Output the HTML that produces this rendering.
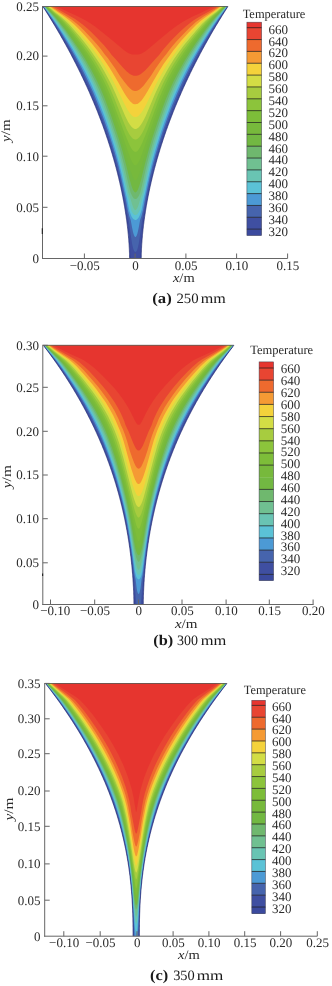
<!DOCTYPE html>
<html><head><meta charset="utf-8"><style>
html,body{margin:0;padding:0;background:#fff;width:332px;height:986px;overflow:hidden;}
svg{display:block;filter:blur(0.35px);}
.tk{font-family:"Liberation Serif",serif;fill:#2a2a2a;}
text{text-rendering:geometricPrecision;-webkit-font-smoothing:antialiased;}
.cap{font-family:"Liberation Serif",serif;fill:#1a1a1a;}
</style></head><body>
<svg width="332" height="986" viewBox="0 0 332 986">
<rect width="332" height="986" fill="#fff"/>
<path d="M42.90,6.50 L43.71,7.77 L44.52,9.03 L45.32,10.30 L46.12,11.57 L46.92,12.83 L47.71,14.10 L48.50,15.36 L49.29,16.63 L50.07,17.90 L50.85,19.16 L51.62,20.43 L52.39,21.70 L53.16,22.96 L53.92,24.23 L54.68,25.49 L55.43,26.76 L56.18,28.03 L56.93,29.29 L57.67,30.56 L58.41,31.83 L59.15,33.09 L59.88,34.36 L60.61,35.63 L61.33,36.89 L62.06,38.16 L62.77,39.42 L63.49,40.69 L64.20,41.96 L64.90,43.22 L65.60,44.49 L66.30,45.76 L67.00,47.02 L67.69,48.29 L68.37,49.56 L69.06,50.82 L69.74,52.09 L70.41,53.35 L71.09,54.62 L71.75,55.89 L72.42,57.15 L73.08,58.42 L73.74,59.69 L74.39,60.95 L75.04,62.22 L75.69,63.48 L76.33,64.75 L76.97,66.02 L77.60,67.28 L78.23,68.55 L78.86,69.82 L79.48,71.08 L80.10,72.35 L80.72,73.62 L81.33,74.88 L81.94,76.15 L82.55,77.41 L83.15,78.68 L83.74,79.95 L84.34,81.21 L84.93,82.48 L85.51,83.75 L86.10,85.01 L86.68,86.28 L87.25,87.55 L87.82,88.81 L88.39,90.08 L88.95,91.34 L89.51,92.61 L90.07,93.88 L90.62,95.14 L91.17,96.41 L91.72,97.68 L92.26,98.94 L92.80,100.21 L93.33,101.47 L93.86,102.74 L94.39,104.01 L94.91,105.27 L95.43,106.54 L95.95,107.81 L96.46,109.07 L96.97,110.34 L97.47,111.61 L97.97,112.87 L98.47,114.14 L98.96,115.40 L99.45,116.67 L99.94,117.94 L100.42,119.20 L100.90,120.47 L101.37,121.74 L101.85,123.00 L102.31,124.27 L102.78,125.54 L103.24,126.80 L103.69,128.07 L104.14,129.33 L104.59,130.60 L105.04,131.87 L105.48,133.13 L105.92,134.40 L106.35,135.67 L106.78,136.93 L107.21,138.20 L107.63,139.46 L108.05,140.73 L108.46,142.00 L108.87,143.26 L109.28,144.53 L109.68,145.80 L110.08,147.06 L110.48,148.33 L110.87,149.60 L111.26,150.86 L111.65,152.13 L112.03,153.39 L112.41,154.66 L112.78,155.93 L113.15,157.19 L113.51,158.46 L113.88,159.73 L114.24,160.99 L114.59,162.26 L114.94,163.53 L115.29,164.79 L115.63,166.06 L115.97,167.32 L116.31,168.59 L116.64,169.86 L116.97,171.12 L117.29,172.39 L117.61,173.66 L117.93,174.92 L118.24,176.19 L118.55,177.45 L118.85,178.72 L119.15,179.99 L119.45,181.25 L119.74,182.52 L120.03,183.79 L120.32,185.05 L120.60,186.32 L120.88,187.59 L121.15,188.85 L121.42,190.12 L121.69,191.38 L121.95,192.65 L122.21,193.92 L122.46,195.18 L122.71,196.45 L122.96,197.72 L123.20,198.98 L123.44,200.25 L123.67,201.52 L123.90,202.78 L124.13,204.05 L124.35,205.31 L124.56,206.58 L124.78,207.85 L124.99,209.11 L125.19,210.38 L125.39,211.65 L125.59,212.91 L125.78,214.18 L125.97,215.44 L126.16,216.71 L126.34,217.98 L126.51,219.24 L126.68,220.51 L126.85,221.78 L127.01,223.04 L127.17,224.31 L127.32,225.58 L127.47,226.84 L127.62,228.11 L127.76,229.37 L127.89,230.64 L128.03,231.91 L128.15,233.17 L128.27,234.44 L128.39,235.71 L128.50,236.97 L128.61,238.24 L128.71,239.51 L128.81,240.77 L128.90,242.04 L128.99,243.30 L129.07,244.57 L129.15,245.84 L129.22,247.10 L129.28,248.37 L129.34,249.64 L129.40,250.90 L129.45,252.17 L129.49,253.43 L129.52,254.70 L129.55,255.97 L129.56,257.23 L129.57,258.50 L141.23,258.50 L141.24,257.23 L141.25,255.97 L141.28,254.70 L141.31,253.43 L141.35,252.17 L141.40,250.90 L141.46,249.64 L141.52,248.37 L141.58,247.10 L141.65,245.84 L141.73,244.57 L141.81,243.30 L141.90,242.04 L141.99,240.77 L142.09,239.51 L142.19,238.24 L142.30,236.97 L142.41,235.71 L142.53,234.44 L142.65,233.17 L142.77,231.91 L142.91,230.64 L143.04,229.37 L143.18,228.11 L143.33,226.84 L143.48,225.58 L143.63,224.31 L143.79,223.04 L143.95,221.78 L144.12,220.51 L144.29,219.24 L144.46,217.98 L144.64,216.71 L144.83,215.44 L145.02,214.18 L145.21,212.91 L145.41,211.65 L145.61,210.38 L145.81,209.11 L146.02,207.85 L146.24,206.58 L146.45,205.31 L146.67,204.05 L146.90,202.78 L147.13,201.52 L147.36,200.25 L147.60,198.98 L147.84,197.72 L148.09,196.45 L148.34,195.18 L148.59,193.92 L148.85,192.65 L149.11,191.38 L149.38,190.12 L149.65,188.85 L149.92,187.59 L150.20,186.32 L150.48,185.05 L150.77,183.79 L151.06,182.52 L151.35,181.25 L151.65,179.99 L151.95,178.72 L152.25,177.45 L152.56,176.19 L152.87,174.92 L153.19,173.66 L153.51,172.39 L153.83,171.12 L154.16,169.86 L154.49,168.59 L154.83,167.32 L155.17,166.06 L155.51,164.79 L155.86,163.53 L156.21,162.26 L156.56,160.99 L156.92,159.73 L157.29,158.46 L157.65,157.19 L158.02,155.93 L158.39,154.66 L158.77,153.39 L159.15,152.13 L159.54,150.86 L159.93,149.60 L160.32,148.33 L160.72,147.06 L161.12,145.80 L161.52,144.53 L161.93,143.26 L162.34,142.00 L162.75,140.73 L163.17,139.46 L163.59,138.20 L164.02,136.93 L164.45,135.67 L164.88,134.40 L165.32,133.13 L165.76,131.87 L166.21,130.60 L166.66,129.33 L167.11,128.07 L167.56,126.80 L168.02,125.54 L168.49,124.27 L168.95,123.00 L169.43,121.74 L169.90,120.47 L170.38,119.20 L170.86,117.94 L171.35,116.67 L171.84,115.40 L172.33,114.14 L172.83,112.87 L173.33,111.61 L173.83,110.34 L174.34,109.07 L174.85,107.81 L175.37,106.54 L175.89,105.27 L176.41,104.01 L176.94,102.74 L177.47,101.47 L178.00,100.21 L178.54,98.94 L179.08,97.68 L179.63,96.41 L180.18,95.14 L180.73,93.88 L181.29,92.61 L181.85,91.34 L182.41,90.08 L182.98,88.81 L183.55,87.55 L184.12,86.28 L184.70,85.01 L185.29,83.75 L185.87,82.48 L186.46,81.21 L187.06,79.95 L187.65,78.68 L188.25,77.41 L188.86,76.15 L189.47,74.88 L190.08,73.62 L190.70,72.35 L191.32,71.08 L191.94,69.82 L192.57,68.55 L193.20,67.28 L193.83,66.02 L194.47,64.75 L195.11,63.48 L195.76,62.22 L196.41,60.95 L197.06,59.69 L197.72,58.42 L198.38,57.15 L199.05,55.89 L199.71,54.62 L200.39,53.35 L201.06,52.09 L201.74,50.82 L202.43,49.56 L203.11,48.29 L203.80,47.02 L204.50,45.76 L205.20,44.49 L205.90,43.22 L206.60,41.96 L207.31,40.69 L208.03,39.42 L208.74,38.16 L209.47,36.89 L210.19,35.63 L210.92,34.36 L211.65,33.09 L212.39,31.83 L213.13,30.56 L213.87,29.29 L214.62,28.03 L215.37,26.76 L216.12,25.49 L216.88,24.23 L217.64,22.96 L218.41,21.70 L219.18,20.43 L219.95,19.16 L220.73,17.90 L221.51,16.63 L222.30,15.36 L223.09,14.10 L223.88,12.83 L224.68,11.57 L225.48,10.30 L226.28,9.03 L227.09,7.77 L227.90,6.50 Z" fill="#3b4a9e"/>
<path d="M139.7,258.3 L131.0,258.3 L130.0,245.7 L129.2,236.3 L128.2,227.7 L127.3,220.1 L124.0,200.9 L121.0,186.1 L119.0,177.3 L116.8,168.5 L114.4,159.7 L112.0,151.3 L109.2,142.5 L106.4,133.9 L103.2,124.9 L99.8,115.9 L94.2,101.9 L88.2,88.1 L81.8,74.3 L75.0,60.9 L67.6,47.1 L59.4,32.7 L51.6,19.9 L43.0,6.5 L52.7,6.4 L116.7,6.4 L216.5,6.4 L227.7,6.5 L217.4,22.7 L208.6,37.5 L204.2,45.3 L200.0,52.9 L196.0,60.5 L191.8,68.7 L188.0,76.5 L184.4,84.1 L181.0,91.7 L177.6,99.5 L174.4,107.3 L171.2,115.3 L168.2,123.3 L165.4,131.1 L162.6,139.3 L160.1,147.3 L157.6,155.3 L155.4,163.3 L153.4,170.9 L151.4,178.9 L149.6,186.9 L147.9,195.3 L145.8,206.3 L143.5,219.9 L143.2,222.7 L141.6,236.3 L140.8,245.7 L139.8,258.3 L139.7,258.3Z" fill="#3f4fa1"/>
<path d="M135.5,251.9 L135.1,251.9 L134.7,251.6 L134.3,251.2 L133.9,250.5 L133.1,248.3 L132.5,245.8 L131.9,242.7 L131.1,237.5 L128.7,219.9 L127.1,212.4 L124.7,199.1 L122.4,188.1 L120.4,178.7 L118.2,169.7 L114.6,156.3 L110.8,143.5 L106.6,130.7 L101.6,116.9 L98.7,109.5 L95.8,102.1 L92.8,95.1 L89.8,88.1 L86.6,81.3 L83.3,74.3 L76.4,60.9 L72.4,53.5 L68.6,46.7 L64.2,39.1 L59.6,31.5 L52.3,19.9 L43.3,6.5 L53.3,6.4 L118.3,6.4 L216.1,6.4 L227.5,6.5 L218.5,19.9 L211.0,31.7 L206.4,39.5 L202.0,47.1 L198.2,53.9 L194.2,61.3 L187.3,74.7 L184.0,81.7 L180.9,88.5 L177.8,95.5 L174.8,102.7 L171.8,110.1 L169.0,117.5 L164.0,131.3 L159.8,144.1 L156.0,157.1 L152.4,170.5 L150.4,178.9 L148.2,188.7 L146.1,199.1 L143.9,211.3 L142.1,219.9 L139.7,237.5 L138.9,242.7 L138.3,245.8 L137.7,248.3 L136.9,250.5 L136.3,251.4 L135.9,251.8 L135.5,251.9Z" fill="#4664ad"/>
<path d="M135.7,237.0 L135.5,237.1 L135.1,237.0 L134.5,236.3 L133.9,235.1 L133.1,232.4 L132.1,227.8 L130.7,219.9 L129.3,215.9 L127.8,210.1 L125.8,199.1 L121.0,176.7 L118.3,165.3 L115.2,154.1 L111.6,141.9 L107.9,130.5 L103.4,117.9 L98.3,104.7 L93.2,92.3 L87.8,80.5 L81.8,68.3 L75.2,56.1 L71.6,49.7 L67.6,42.9 L58.6,28.3 L52.8,19.5 L43.6,6.5 L53.7,6.4 L117.5,6.4 L215.7,6.4 L227.2,6.5 L218.0,19.5 L212.2,28.3 L203.1,43.1 L199.2,49.7 L195.3,56.5 L188.8,68.7 L182.6,81.3 L177.2,93.3 L172.1,105.5 L167.0,118.9 L162.4,132.1 L158.6,143.9 L154.8,156.7 L152.2,166.7 L149.6,177.5 L145.0,199.1 L143.0,210.1 L141.5,215.9 L140.1,219.9 L138.9,226.7 L137.9,231.6 L137.3,233.9 L136.7,235.6 L136.1,236.6 L135.7,237.0Z" fill="#4c9ad5"/>
<path d="M135.7,220.0 L135.1,220.0 L134.1,219.6 L133.3,219.0 L132.5,218.0 L131.8,216.9 L131.1,215.5 L129.7,211.7 L129.2,210.1 L127.1,199.1 L125.6,192.5 L123.8,183.9 L121.2,172.3 L118.4,160.9 L115.0,148.7 L111.0,135.7 L105.8,120.3 L100.5,106.1 L97.7,99.3 L95.1,92.9 L90.2,82.1 L84.8,71.1 L78.8,59.9 L72.8,49.3 L65.0,36.7 L57.3,24.9 L53.0,18.7 L43.9,6.5 L54.1,6.4 L117.1,6.4 L215.3,6.4 L226.9,6.5 L217.6,18.9 L213.2,25.3 L205.4,37.3 L197.8,49.7 L191.9,60.1 L185.8,71.5 L180.2,82.9 L175.4,93.7 L172.8,99.9 L170.0,106.9 L164.8,120.9 L159.6,136.3 L155.6,149.3 L152.4,160.9 L149.6,172.3 L147.0,183.9 L145.2,192.5 L143.7,199.1 L141.6,210.1 L141.1,211.7 L139.9,215.1 L139.2,216.5 L138.5,217.7 L137.9,218.5 L137.1,219.3 L136.5,219.7 L135.7,220.0Z" fill="#5bc2d6"/>
<path d="M135.7,215.1 L135.1,215.1 L134.5,215.0 L133.9,214.6 L133.3,214.0 L132.1,212.3 L131.0,210.1 L128.7,199.1 L126.9,192.5 L123.6,176.9 L121.2,166.5 L118.4,155.5 L115.4,144.9 L113.7,139.5 L111.2,131.7 L108.2,122.9 L105.2,114.5 L100.2,101.3 L95.2,89.3 L90.7,79.5 L85.0,68.3 L79.4,58.1 L73.0,47.3 L64.8,34.5 L57.6,23.9 L53.8,18.7 L44.2,6.5 L54.5,6.4 L119.3,6.4 L214.9,6.4 L226.6,6.5 L217.0,18.7 L213.1,24.1 L205.8,34.9 L197.6,47.7 L191.2,58.5 L185.6,68.7 L179.9,80.1 L175.3,90.1 L170.8,100.7 L166.2,112.7 L161.8,125.1 L157.1,139.5 L153.4,151.9 L149.9,165.3 L147.4,176.1 L143.9,192.5 L142.1,199.1 L139.8,210.1 L138.7,212.3 L137.7,213.8 L136.7,214.7 L135.7,215.1Z" fill="#69c4b3"/>
<path d="M135.5,210.1 L134.9,210.0 L134.3,209.4 L133.7,208.5 L133.1,207.2 L131.9,203.7 L130.6,199.1 L128.4,192.5 L124.4,173.7 L121.8,162.9 L118.6,150.5 L116.2,142.3 L114.5,136.7 L109.7,122.3 L105.0,109.3 L100.6,97.9 L96.2,87.5 L91.8,78.3 L88.8,72.3 L85.8,66.7 L80.7,57.5 L73.8,46.3 L65.2,33.3 L61.6,28.1 L58.2,23.3 L54.5,18.5 L44.5,6.5 L55.1,6.4 L118.3,6.4 L214.3,6.4 L226.3,6.5 L216.3,18.5 L212.6,23.3 L209.2,28.1 L205.6,33.3 L197.0,46.3 L190.1,57.5 L185.0,66.7 L182.0,72.3 L179.0,78.3 L174.6,87.5 L170.2,97.9 L165.6,109.7 L161.0,122.7 L156.0,137.7 L152.0,151.3 L148.8,163.5 L146.4,173.7 L142.4,192.5 L140.2,199.1 L138.9,203.7 L137.9,206.7 L137.3,208.1 L136.7,209.1 L136.1,209.8 L135.5,210.1Z" fill="#70c091"/>
<path d="M135.9,199.0 L135.3,199.0 L134.5,198.8 L133.9,198.4 L133.3,197.8 L132.7,197.0 L131.9,195.6 L130.5,192.5 L127.5,180.1 L125.4,170.5 L123.6,162.9 L120.7,151.9 L117.1,139.5 L111.4,122.3 L106.0,107.1 L103.4,100.3 L101.1,94.7 L98.4,88.3 L95.9,82.9 L90.5,72.1 L85.2,62.3 L82.6,57.9 L79.0,52.1 L73.4,43.3 L65.0,31.1 L58.6,22.5 L55.2,18.3 L44.9,6.5 L117.3,6.4 L225.9,6.5 L215.6,18.3 L212.2,22.5 L205.8,31.1 L197.2,43.7 L191.4,52.7 L188.0,58.3 L185.2,63.1 L180.0,72.7 L176.8,78.9 L174.5,83.7 L172.2,88.7 L169.4,95.3 L164.6,107.7 L159.4,122.3 L153.7,139.5 L150.1,151.9 L147.2,162.9 L145.4,170.5 L143.3,180.1 L140.3,192.5 L139.1,195.2 L138.1,197.0 L137.5,197.8 L136.9,198.4 L135.9,199.0Z" fill="#6fb86e"/>
<path d="M135.9,192.3 L135.3,192.5 L134.9,192.3 L134.1,191.6 L133.1,189.9 L131.9,186.9 L129.8,180.1 L126.2,165.3 L122.7,151.9 L119.2,140.1 L117.4,134.5 L111.0,115.5 L106.4,102.9 L104.2,97.3 L102.0,91.9 L99.4,86.1 L97.0,80.9 L91.6,70.5 L86.0,60.5 L79.8,50.5 L73.8,41.7 L65.6,30.1 L62.4,25.9 L59.2,21.9 L56.0,18.1 L45.3,6.5 L117.1,6.4 L225.5,6.5 L214.6,18.3 L211.4,22.1 L208.2,26.1 L204.9,30.5 L196.5,42.3 L190.7,51.1 L184.5,61.1 L179.0,70.9 L173.4,81.7 L170.0,89.3 L165.7,99.5 L161.8,109.9 L157.4,122.5 L151.8,139.5 L148.4,150.9 L144.6,165.3 L141.0,180.1 L139.7,184.4 L138.7,187.5 L137.7,189.9 L136.7,191.6 L135.9,192.3Z" fill="#72b842"/>
<path d="M135.5,180.1 L135.1,180.1 L134.7,179.9 L134.3,179.6 L133.7,178.8 L132.7,176.9 L131.5,173.7 L130.1,169.3 L125.0,151.9 L121.2,139.5 L114.8,120.5 L109.6,105.9 L106.4,97.5 L103.0,89.5 L100.2,83.3 L97.4,77.5 L92.4,68.1 L86.9,58.7 L80.4,48.7 L73.2,38.5 L65.6,28.3 L62.6,24.5 L59.6,20.9 L56.6,17.7 L45.7,6.5 L225.1,6.5 L214.2,17.7 L211.2,20.9 L208.2,24.5 L205.2,28.3 L197.6,38.5 L190.4,48.7 L183.9,58.7 L178.4,68.1 L173.4,77.5 L170.4,83.7 L167.6,89.9 L164.3,97.9 L160.8,106.9 L156.0,120.5 L149.6,139.5 L145.8,151.9 L140.7,169.3 L139.3,173.7 L138.3,176.4 L137.3,178.5 L136.7,179.3 L136.3,179.7 L135.9,180.0 L135.5,180.1Z" fill="#77b93c"/>
<path d="M136.1,165.1 L135.5,165.3 L134.9,165.2 L134.3,164.9 L133.7,164.4 L133.1,163.6 L132.3,162.4 L130.9,159.5 L128.7,153.8 L123.8,139.5 L120.1,129.1 L113.8,111.1 L108.8,97.9 L105.2,89.3 L102.4,83.1 L97.8,74.1 L94.4,67.9 L89.2,59.1 L82.8,49.3 L76.6,40.7 L68.5,30.1 L64.0,24.5 L59.9,19.9 L56.3,16.3 L51.9,12.1 L48.5,8.7 L46.2,6.5 L224.6,6.5 L222.3,8.7 L218.9,12.1 L214.5,16.3 L210.9,19.9 L206.6,24.7 L201.8,30.7 L193.6,41.5 L187.4,50.3 L181.2,59.7 L175.6,69.3 L171.2,77.5 L168.8,82.3 L166.2,87.9 L163.2,94.9 L160.4,101.9 L157.0,111.1 L140.9,157.0 L139.5,160.4 L138.3,162.7 L137.1,164.4 L136.1,165.1Z" fill="#7dbd39"/>
<path d="M135.5,151.9 L134.9,151.8 L134.1,151.5 L133.5,151.1 L132.7,150.3 L131.9,149.2 L131.1,148.0 L129.5,144.9 L125.7,136.1 L122.9,129.1 L113.2,102.7 L110.6,96.1 L107.6,89.1 L105.0,83.3 L102.3,77.9 L97.9,69.9 L93.6,62.5 L89.8,56.5 L86.0,50.9 L82.7,46.3 L75.8,37.1 L68.3,27.7 L64.3,23.1 L60.9,19.5 L57.2,16.1 L52.7,12.1 L49.0,8.5 L46.7,6.5 L224.1,6.5 L221.8,8.5 L218.1,12.1 L213.6,16.1 L209.9,19.5 L206.4,23.3 L202.4,27.9 L194.5,37.7 L187.8,46.7 L184.8,50.9 L180.8,56.9 L177.0,62.9 L172.7,70.1 L168.4,78.1 L165.7,83.5 L163.2,89.1 L160.2,96.1 L157.6,102.7 L147.9,129.1 L145.3,135.6 L141.5,144.4 L139.9,147.6 L138.3,150.0 L137.5,150.9 L136.9,151.4 L136.1,151.8 L135.5,151.9Z" fill="#8cc43b"/>
<path d="M135.9,139.5 L135.1,139.5 L134.1,139.3 L133.1,138.7 L132.1,137.9 L131.1,136.8 L130.1,135.4 L128.9,133.5 L127.7,131.3 L126.5,128.9 L124.3,123.8 L121.6,117.1 L114.4,98.5 L112.0,92.9 L108.7,85.5 L105.8,79.5 L101.0,70.7 L97.4,64.5 L93.5,58.3 L87.8,50.1 L82.9,43.5 L74.8,33.3 L68.9,26.3 L65.2,22.3 L62.1,19.3 L58.5,16.1 L53.7,12.1 L49.7,8.5 L47.3,6.5 L223.5,6.5 L221.1,8.5 L217.1,12.1 L212.3,16.1 L208.7,19.3 L205.4,22.5 L201.8,26.5 L195.8,33.5 L187.6,43.9 L182.8,50.3 L176.9,58.9 L173.1,65.1 L169.6,71.1 L164.9,79.7 L162.0,85.7 L157.0,97.1 L147.9,120.4 L145.1,127.1 L143.5,130.5 L141.3,134.5 L139.5,137.0 L138.5,138.1 L137.7,138.7 L136.7,139.3 L135.9,139.5Z" fill="#a7cc3f"/>
<path d="M135.9,128.9 L134.9,128.9 L134.1,128.7 L133.3,128.3 L132.3,127.6 L131.3,126.5 L130.3,125.3 L128.3,122.2 L125.5,116.8 L115.6,93.7 L112.2,86.3 L109.4,80.7 L104.4,71.5 L100.6,65.1 L96.6,58.9 L91.0,50.9 L86.4,44.7 L80.4,37.3 L73.9,29.7 L68.8,24.1 L65.4,20.7 L63.4,18.9 L59.9,16.1 L54.9,12.2 L50.6,8.5 L48.0,6.5 L222.8,6.5 L220.2,8.5 L215.9,12.2 L210.9,16.1 L207.4,18.9 L205.4,20.7 L202.0,24.1 L196.7,29.9 L190.1,37.7 L183.9,45.3 L179.3,51.5 L174.0,59.1 L169.8,65.7 L166.2,71.9 L161.2,81.1 L158.4,86.7 L155.0,94.1 L145.5,116.4 L142.9,121.5 L140.9,124.7 L139.1,127.0 L138.3,127.7 L137.5,128.3 L136.7,128.7 L135.9,128.9Z" fill="#d3dd45"/>
<path d="M135.7,117.1 L134.9,117.1 L133.9,116.8 L133.1,116.4 L132.1,115.7 L130.3,113.8 L128.3,111.0 L126.5,108.0 L124.6,104.3 L116.4,87.5 L114.3,83.3 L112.2,79.3 L107.4,70.9 L104.0,65.3 L100.2,59.5 L94.2,51.1 L90.8,46.5 L85.4,39.9 L78.6,32.1 L74.0,27.1 L69.6,22.7 L67.0,20.3 L64.8,18.5 L61.4,15.9 L56.1,12.1 L51.6,8.5 L48.8,6.5 L222.0,6.5 L219.2,8.5 L214.7,12.1 L209.4,15.9 L206.0,18.5 L203.8,20.3 L201.0,22.9 L196.6,27.3 L191.8,32.5 L184.8,40.7 L179.6,47.1 L176.4,51.3 L170.4,59.7 L166.6,65.5 L163.2,71.1 L158.4,79.7 L156.4,83.5 L146.3,104.2 L144.3,108.0 L142.7,110.7 L140.9,113.3 L139.1,115.3 L138.1,116.2 L137.3,116.6 L136.5,117.0 L135.7,117.1Z" fill="#f4d23b"/>
<path d="M136.5,104.1 L135.5,104.3 L134.5,104.2 L133.5,103.9 L132.5,103.4 L131.5,102.6 L130.5,101.7 L128.3,99.1 L126.3,96.3 L124.1,92.8 L118.2,82.3 L112.0,71.7 L109.4,67.5 L106.4,62.9 L103.3,58.5 L96.2,48.9 L92.0,43.7 L87.1,38.1 L81.9,32.3 L77.9,28.1 L74.0,24.3 L69.9,20.7 L67.6,18.9 L64.3,16.5 L57.7,12.1 L52.8,8.5 L49.8,6.5 L221.0,6.5 L218.0,8.5 L213.1,12.1 L204.8,17.7 L202.1,19.7 L200.2,21.3 L196.0,25.1 L191.8,29.3 L187.1,34.3 L181.0,41.1 L177.2,45.7 L173.7,50.1 L167.2,58.9 L163.6,64.1 L159.2,71.1 L152.5,82.5 L147.7,91.1 L145.3,95.0 L143.3,98.0 L141.5,100.4 L139.7,102.3 L138.1,103.5 L137.3,103.9 L136.5,104.1Z" fill="#f59a34"/>
<path d="M135.9,90.9 L134.9,90.9 L133.9,90.7 L132.9,90.4 L131.9,89.9 L129.9,88.3 L127.5,85.8 L124.7,82.3 L120.0,75.9 L115.4,68.7 L110.6,61.9 L107.8,58.1 L105.0,54.7 L101.0,49.3 L97.5,45.1 L93.7,40.7 L88.3,34.9 L83.6,30.1 L80.5,27.1 L77.4,24.3 L74.4,21.7 L71.8,19.7 L66.5,16.2 L59.5,11.9 L54.8,8.7 L51.0,6.5 L219.8,6.5 L216.0,8.7 L211.3,11.9 L204.1,16.3 L198.7,19.9 L195.9,22.1 L192.7,24.9 L189.6,27.7 L186.4,30.9 L181.6,35.9 L176.8,41.1 L172.9,45.5 L169.7,49.5 L165.8,54.7 L162.9,58.3 L160.1,62.1 L155.2,69.1 L150.8,75.9 L146.3,82.1 L143.7,85.4 L141.5,87.8 L139.5,89.5 L137.7,90.5 L136.9,90.7 L135.9,90.9Z" fill="#ee6a2e"/>
<path d="M136.7,75.7 L135.3,75.8 L133.9,75.7 L132.9,75.5 L131.9,75.1 L130.7,74.5 L129.5,73.7 L128.1,72.6 L126.7,71.4 L122.9,67.4 L115.0,58.5 L111.5,54.7 L109.0,51.3 L106.5,48.3 L103.8,45.1 L100.9,41.9 L96.4,37.3 L91.2,32.1 L87.1,28.3 L83.3,25.1 L78.3,21.2 L74.7,18.8 L69.9,16.0 L62.8,12.1 L56.9,8.6 L52.9,6.5 L217.9,6.5 L213.7,8.7 L208.0,12.1 L200.7,16.1 L195.6,19.1 L193.7,20.3 L191.3,22.1 L186.0,26.3 L182.4,29.5 L178.6,33.1 L173.6,38.1 L169.4,42.5 L166.5,45.7 L163.9,48.7 L161.5,51.7 L159.3,54.7 L155.6,58.7 L148.3,67.0 L145.1,70.4 L142.7,72.6 L140.5,74.3 L138.5,75.3 L136.7,75.7Z" fill="#e84532"/>
<path d="M138.1,54.5 L134.3,54.6 L132.1,54.4 L129.9,53.8 L127.7,52.8 L125.5,51.3 L122.9,49.3 L109.8,38.3 L100.7,30.9 L95.1,26.6 L89.5,22.8 L85.3,20.2 L81.1,18.0 L76.5,15.8 L68.2,12.1 L61.1,8.6 L56.2,6.5 L214.6,6.5 L209.7,8.6 L202.6,12.1 L192.7,16.6 L186.9,19.4 L182.9,21.8 L176.5,26.1 L169.8,31.1 L160.7,38.5 L148.9,48.5 L145.5,51.2 L143.3,52.6 L141.5,53.6 L139.7,54.2 L138.1,54.5Z" fill="#e6352f"/>
<path d="M42.90,6.50 L43.71,7.77 L44.52,9.03 L45.32,10.30 L46.12,11.57 L46.92,12.83 L47.71,14.10 L48.50,15.36 L49.29,16.63 L50.07,17.90 L50.85,19.16 L51.62,20.43 L52.39,21.70 L53.16,22.96 L53.92,24.23 L54.68,25.49 L55.43,26.76 L56.18,28.03 L56.93,29.29 L57.67,30.56 L58.41,31.83 L59.15,33.09 L59.88,34.36 L60.61,35.63 L61.33,36.89 L62.06,38.16 L62.77,39.42 L63.49,40.69 L64.20,41.96 L64.90,43.22 L65.60,44.49 L66.30,45.76 L67.00,47.02 L67.69,48.29 L68.37,49.56 L69.06,50.82 L69.74,52.09 L70.41,53.35 L71.09,54.62 L71.75,55.89 L72.42,57.15 L73.08,58.42 L73.74,59.69 L74.39,60.95 L75.04,62.22 L75.69,63.48 L76.33,64.75 L76.97,66.02 L77.60,67.28 L78.23,68.55 L78.86,69.82 L79.48,71.08 L80.10,72.35 L80.72,73.62 L81.33,74.88 L81.94,76.15 L82.55,77.41 L83.15,78.68 L83.74,79.95 L84.34,81.21 L84.93,82.48 L85.51,83.75 L86.10,85.01 L86.68,86.28 L87.25,87.55 L87.82,88.81 L88.39,90.08 L88.95,91.34 L89.51,92.61 L90.07,93.88 L90.62,95.14 L91.17,96.41 L91.72,97.68 L92.26,98.94 L92.80,100.21 L93.33,101.47 L93.86,102.74 L94.39,104.01 L94.91,105.27 L95.43,106.54 L95.95,107.81 L96.46,109.07 L96.97,110.34 L97.47,111.61 L97.97,112.87 L98.47,114.14 L98.96,115.40 L99.45,116.67 L99.94,117.94 L100.42,119.20 L100.90,120.47 L101.37,121.74 L101.85,123.00 L102.31,124.27 L102.78,125.54 L103.24,126.80 L103.69,128.07 L104.14,129.33 L104.59,130.60 L105.04,131.87 L105.48,133.13 L105.92,134.40 L106.35,135.67 L106.78,136.93 L107.21,138.20 L107.63,139.46 L108.05,140.73 L108.46,142.00 L108.87,143.26 L109.28,144.53 L109.68,145.80 L110.08,147.06 L110.48,148.33 L110.87,149.60 L111.26,150.86 L111.65,152.13 L112.03,153.39 L112.41,154.66 L112.78,155.93 L113.15,157.19 L113.51,158.46 L113.88,159.73 L114.24,160.99 L114.59,162.26 L114.94,163.53 L115.29,164.79 L115.63,166.06 L115.97,167.32 L116.31,168.59 L116.64,169.86 L116.97,171.12 L117.29,172.39 L117.61,173.66 L117.93,174.92 L118.24,176.19 L118.55,177.45 L118.85,178.72 L119.15,179.99 L119.45,181.25 L119.74,182.52 L120.03,183.79 L120.32,185.05 L120.60,186.32 L120.88,187.59 L121.15,188.85 L121.42,190.12 L121.69,191.38 L121.95,192.65 L122.21,193.92 L122.46,195.18 L122.71,196.45 L122.96,197.72 L123.20,198.98 L123.44,200.25 L123.67,201.52 L123.90,202.78 L124.13,204.05 L124.35,205.31 L124.56,206.58 L124.78,207.85 L124.99,209.11 L125.19,210.38 L125.39,211.65 L125.59,212.91 L125.78,214.18 L125.97,215.44 L126.16,216.71 L126.34,217.98 L126.51,219.24 L126.68,220.51 L126.85,221.78 L127.01,223.04 L127.17,224.31 L127.32,225.58 L127.47,226.84 L127.62,228.11 L127.76,229.37 L127.89,230.64 L128.03,231.91 L128.15,233.17 L128.27,234.44 L128.39,235.71 L128.50,236.97 L128.61,238.24 L128.71,239.51 L128.81,240.77 L128.90,242.04 L128.99,243.30 L129.07,244.57 L129.15,245.84 L129.22,247.10 L129.28,248.37 L129.34,249.64 L129.40,250.90 L129.45,252.17 L129.49,253.43 L129.52,254.70 L129.55,255.97 L129.56,257.23 L129.57,258.50 M141.23,258.50 L141.24,257.23 L141.25,255.97 L141.28,254.70 L141.31,253.43 L141.35,252.17 L141.40,250.90 L141.46,249.64 L141.52,248.37 L141.58,247.10 L141.65,245.84 L141.73,244.57 L141.81,243.30 L141.90,242.04 L141.99,240.77 L142.09,239.51 L142.19,238.24 L142.30,236.97 L142.41,235.71 L142.53,234.44 L142.65,233.17 L142.77,231.91 L142.91,230.64 L143.04,229.37 L143.18,228.11 L143.33,226.84 L143.48,225.58 L143.63,224.31 L143.79,223.04 L143.95,221.78 L144.12,220.51 L144.29,219.24 L144.46,217.98 L144.64,216.71 L144.83,215.44 L145.02,214.18 L145.21,212.91 L145.41,211.65 L145.61,210.38 L145.81,209.11 L146.02,207.85 L146.24,206.58 L146.45,205.31 L146.67,204.05 L146.90,202.78 L147.13,201.52 L147.36,200.25 L147.60,198.98 L147.84,197.72 L148.09,196.45 L148.34,195.18 L148.59,193.92 L148.85,192.65 L149.11,191.38 L149.38,190.12 L149.65,188.85 L149.92,187.59 L150.20,186.32 L150.48,185.05 L150.77,183.79 L151.06,182.52 L151.35,181.25 L151.65,179.99 L151.95,178.72 L152.25,177.45 L152.56,176.19 L152.87,174.92 L153.19,173.66 L153.51,172.39 L153.83,171.12 L154.16,169.86 L154.49,168.59 L154.83,167.32 L155.17,166.06 L155.51,164.79 L155.86,163.53 L156.21,162.26 L156.56,160.99 L156.92,159.73 L157.29,158.46 L157.65,157.19 L158.02,155.93 L158.39,154.66 L158.77,153.39 L159.15,152.13 L159.54,150.86 L159.93,149.60 L160.32,148.33 L160.72,147.06 L161.12,145.80 L161.52,144.53 L161.93,143.26 L162.34,142.00 L162.75,140.73 L163.17,139.46 L163.59,138.20 L164.02,136.93 L164.45,135.67 L164.88,134.40 L165.32,133.13 L165.76,131.87 L166.21,130.60 L166.66,129.33 L167.11,128.07 L167.56,126.80 L168.02,125.54 L168.49,124.27 L168.95,123.00 L169.43,121.74 L169.90,120.47 L170.38,119.20 L170.86,117.94 L171.35,116.67 L171.84,115.40 L172.33,114.14 L172.83,112.87 L173.33,111.61 L173.83,110.34 L174.34,109.07 L174.85,107.81 L175.37,106.54 L175.89,105.27 L176.41,104.01 L176.94,102.74 L177.47,101.47 L178.00,100.21 L178.54,98.94 L179.08,97.68 L179.63,96.41 L180.18,95.14 L180.73,93.88 L181.29,92.61 L181.85,91.34 L182.41,90.08 L182.98,88.81 L183.55,87.55 L184.12,86.28 L184.70,85.01 L185.29,83.75 L185.87,82.48 L186.46,81.21 L187.06,79.95 L187.65,78.68 L188.25,77.41 L188.86,76.15 L189.47,74.88 L190.08,73.62 L190.70,72.35 L191.32,71.08 L191.94,69.82 L192.57,68.55 L193.20,67.28 L193.83,66.02 L194.47,64.75 L195.11,63.48 L195.76,62.22 L196.41,60.95 L197.06,59.69 L197.72,58.42 L198.38,57.15 L199.05,55.89 L199.71,54.62 L200.39,53.35 L201.06,52.09 L201.74,50.82 L202.43,49.56 L203.11,48.29 L203.80,47.02 L204.50,45.76 L205.20,44.49 L205.90,43.22 L206.60,41.96 L207.31,40.69 L208.03,39.42 L208.74,38.16 L209.47,36.89 L210.19,35.63 L210.92,34.36 L211.65,33.09 L212.39,31.83 L213.13,30.56 L213.87,29.29 L214.62,28.03 L215.37,26.76 L216.12,25.49 L216.88,24.23 L217.64,22.96 L218.41,21.70 L219.18,20.43 L219.95,19.16 L220.73,17.90 L221.51,16.63 L222.30,15.36 L223.09,14.10 L223.88,12.83 L224.68,11.57 L225.48,10.30 L226.28,9.03 L227.09,7.77 L227.90,6.50" fill="none" stroke="#2b3378" stroke-width="0.7"/>
<line x1="42.90" y1="6.50" x2="227.90" y2="6.50" stroke="#555" stroke-width="0.8"/>
<line x1="42.5" y1="6.0" x2="42.5" y2="259.0" stroke="#666" stroke-width="1"/>
<line x1="42.0" y1="258.5" x2="287.5" y2="258.5" stroke="#666" stroke-width="1"/>
<line x1="42.5" y1="6.5" x2="47.5" y2="6.5" stroke="#666" stroke-width="1"/>
<text x="39.1" y="10.8" text-anchor="end" class="tk" font-size="13.0">0.25</text>
<line x1="42.5" y1="56.1" x2="47.5" y2="56.1" stroke="#666" stroke-width="1"/>
<text x="39.1" y="60.4" text-anchor="end" class="tk" font-size="13.0">0.20</text>
<line x1="42.5" y1="105.8" x2="47.5" y2="105.8" stroke="#666" stroke-width="1"/>
<text x="39.1" y="110.1" text-anchor="end" class="tk" font-size="13.0">0.15</text>
<line x1="42.5" y1="156.2" x2="47.5" y2="156.2" stroke="#666" stroke-width="1"/>
<text x="39.1" y="160.5" text-anchor="end" class="tk" font-size="13.0">0.10</text>
<line x1="42.5" y1="207.3" x2="47.5" y2="207.3" stroke="#666" stroke-width="1"/>
<text x="39.1" y="211.6" text-anchor="end" class="tk" font-size="13.0">0.05</text>
<text x="39.1" y="262.7" text-anchor="end" class="tk" font-size="13.0">0</text>
<line x1="84.4" y1="258.5" x2="84.4" y2="253.5" stroke="#666" stroke-width="1"/>
<text x="84.7" y="269.5" text-anchor="middle" class="tk" font-size="13.0">−0.05</text>
<line x1="135.1" y1="258.5" x2="135.1" y2="253.5" stroke="#666" stroke-width="1"/>
<text x="135.4" y="269.5" text-anchor="middle" class="tk" font-size="13.0">0</text>
<line x1="185.9" y1="258.5" x2="185.9" y2="253.5" stroke="#666" stroke-width="1"/>
<text x="186.2" y="269.5" text-anchor="middle" class="tk" font-size="13.0">0.05</text>
<line x1="236.6" y1="258.5" x2="236.6" y2="253.5" stroke="#666" stroke-width="1"/>
<text x="236.9" y="269.5" text-anchor="middle" class="tk" font-size="13.0">0.10</text>
<line x1="287.6" y1="258.5" x2="287.6" y2="253.5" stroke="#666" stroke-width="1"/>
<text x="287.9" y="269.5" text-anchor="middle" class="tk" font-size="13.0">0.15</text>
<line x1="42.3" y1="228.3" x2="42.3" y2="234.0" stroke="#222" stroke-width="1.1"/>
<text x="183.8" y="281.5" text-anchor="middle" class="tk" font-size="13" textLength="21.7" lengthAdjust="spacingAndGlyphs"><tspan font-style="italic">x</tspan>/m</text>
<text transform="translate(9.9,130.7) rotate(-90)" text-anchor="middle" class="tk" font-size="13" textLength="22.6" lengthAdjust="spacingAndGlyphs"><tspan font-style="italic">y</tspan>/m</text>
<text x="152.33" y="302.80" font-size="14.80" textLength="19.43" lengthAdjust="spacingAndGlyphs" class="cap" font-weight="bold">(a)</text>
<text x="176.41" y="302.80" font-size="14.30" textLength="22.18" lengthAdjust="spacingAndGlyphs" class="cap">250</text>
<text x="200.68" y="302.80" font-size="14.30" textLength="25.07" lengthAdjust="spacingAndGlyphs" class="cap">mm</text>
<rect x="246.9" y="22.20" width="14.7" height="5.80" fill="#e6352f"/>
<rect x="246.9" y="27.70" width="14.7" height="12.15" fill="#e84532"/>
<rect x="246.9" y="39.55" width="14.7" height="12.15" fill="#ee6a2e"/>
<rect x="246.9" y="51.40" width="14.7" height="12.15" fill="#f59a34"/>
<rect x="246.9" y="63.25" width="14.7" height="12.15" fill="#f4d23b"/>
<rect x="246.9" y="75.10" width="14.7" height="12.15" fill="#d3dd45"/>
<rect x="246.9" y="86.95" width="14.7" height="12.15" fill="#a7cc3f"/>
<rect x="246.9" y="98.80" width="14.7" height="12.15" fill="#8cc43b"/>
<rect x="246.9" y="110.65" width="14.7" height="12.15" fill="#7dbd39"/>
<rect x="246.9" y="122.50" width="14.7" height="12.15" fill="#77b93c"/>
<rect x="246.9" y="134.35" width="14.7" height="12.15" fill="#72b842"/>
<rect x="246.9" y="146.20" width="14.7" height="12.15" fill="#6fb86e"/>
<rect x="246.9" y="158.05" width="14.7" height="12.15" fill="#70c091"/>
<rect x="246.9" y="169.90" width="14.7" height="12.15" fill="#69c4b3"/>
<rect x="246.9" y="181.75" width="14.7" height="12.15" fill="#5bc2d6"/>
<rect x="246.9" y="193.60" width="14.7" height="12.15" fill="#4c9ad5"/>
<rect x="246.9" y="205.45" width="14.7" height="12.15" fill="#4664ad"/>
<rect x="246.9" y="217.30" width="14.7" height="12.15" fill="#3f4fa1"/>
<rect x="246.9" y="229.15" width="14.7" height="6.45" fill="#3b4a9e"/>
<line x1="246.9" y1="27.70" x2="261.6" y2="27.70" stroke="#1a1a1a" stroke-width="0.9" stroke-opacity="0.8"/>
<line x1="246.9" y1="39.55" x2="261.6" y2="39.55" stroke="#1a1a1a" stroke-width="0.9" stroke-opacity="0.8"/>
<line x1="246.9" y1="51.40" x2="261.6" y2="51.40" stroke="#1a1a1a" stroke-width="0.9" stroke-opacity="0.8"/>
<line x1="246.9" y1="63.25" x2="261.6" y2="63.25" stroke="#1a1a1a" stroke-width="0.9" stroke-opacity="0.8"/>
<line x1="246.9" y1="75.10" x2="261.6" y2="75.10" stroke="#1a1a1a" stroke-width="0.9" stroke-opacity="0.8"/>
<line x1="246.9" y1="86.95" x2="261.6" y2="86.95" stroke="#1a1a1a" stroke-width="0.9" stroke-opacity="0.8"/>
<line x1="246.9" y1="98.80" x2="261.6" y2="98.80" stroke="#1a1a1a" stroke-width="0.9" stroke-opacity="0.8"/>
<line x1="246.9" y1="110.65" x2="261.6" y2="110.65" stroke="#1a1a1a" stroke-width="0.9" stroke-opacity="0.8"/>
<line x1="246.9" y1="122.50" x2="261.6" y2="122.50" stroke="#1a1a1a" stroke-width="0.9" stroke-opacity="0.8"/>
<line x1="246.9" y1="134.35" x2="261.6" y2="134.35" stroke="#1a1a1a" stroke-width="0.9" stroke-opacity="0.8"/>
<line x1="246.9" y1="146.20" x2="261.6" y2="146.20" stroke="#1a1a1a" stroke-width="0.9" stroke-opacity="0.8"/>
<line x1="246.9" y1="158.05" x2="261.6" y2="158.05" stroke="#1a1a1a" stroke-width="0.9" stroke-opacity="0.8"/>
<line x1="246.9" y1="169.90" x2="261.6" y2="169.90" stroke="#1a1a1a" stroke-width="0.9" stroke-opacity="0.8"/>
<line x1="246.9" y1="181.75" x2="261.6" y2="181.75" stroke="#1a1a1a" stroke-width="0.9" stroke-opacity="0.8"/>
<line x1="246.9" y1="193.60" x2="261.6" y2="193.60" stroke="#1a1a1a" stroke-width="0.9" stroke-opacity="0.8"/>
<line x1="246.9" y1="205.45" x2="261.6" y2="205.45" stroke="#1a1a1a" stroke-width="0.9" stroke-opacity="0.8"/>
<line x1="246.9" y1="217.30" x2="261.6" y2="217.30" stroke="#1a1a1a" stroke-width="0.9" stroke-opacity="0.8"/>
<line x1="246.9" y1="229.15" x2="261.6" y2="229.15" stroke="#1a1a1a" stroke-width="0.9" stroke-opacity="0.8"/>
<rect x="246.9" y="22.20" width="14.7" height="213.10" fill="none" stroke="#3a3a4a" stroke-width="0.6" stroke-opacity="0.8"/>
<text x="268.5" y="33.6" class="tk" font-size="13">660</text>
<text x="268.5" y="45.5" class="tk" font-size="13">640</text>
<text x="268.5" y="57.4" class="tk" font-size="13">620</text>
<text x="268.5" y="69.3" class="tk" font-size="13">600</text>
<text x="268.5" y="81.2" class="tk" font-size="13">580</text>
<text x="268.5" y="93.0" class="tk" font-size="13">560</text>
<text x="268.5" y="104.9" class="tk" font-size="13">540</text>
<text x="268.5" y="116.8" class="tk" font-size="13">520</text>
<text x="268.5" y="128.7" class="tk" font-size="13">500</text>
<text x="268.5" y="140.6" class="tk" font-size="13">480</text>
<text x="268.5" y="152.5" class="tk" font-size="13">460</text>
<text x="268.5" y="164.4" class="tk" font-size="13">440</text>
<text x="268.5" y="176.3" class="tk" font-size="13">420</text>
<text x="268.5" y="188.2" class="tk" font-size="13">400</text>
<text x="268.5" y="200.1" class="tk" font-size="13">380</text>
<text x="268.5" y="212.0" class="tk" font-size="13">360</text>
<text x="268.5" y="223.8" class="tk" font-size="13">340</text>
<text x="268.5" y="235.7" class="tk" font-size="13">320</text>
<text x="242.65" y="17.60" font-size="12.80" textLength="62.72" lengthAdjust="spacingAndGlyphs" class="tk">Temperature</text>
<path d="M43.30,345.30 L44.30,346.60 L45.29,347.91 L46.27,349.21 L47.25,350.51 L48.22,351.81 L49.18,353.12 L50.14,354.42 L51.09,355.72 L52.04,357.02 L52.97,358.33 L53.91,359.63 L54.83,360.93 L55.75,362.23 L56.66,363.54 L57.57,364.84 L58.47,366.14 L59.36,367.44 L60.25,368.75 L61.13,370.05 L62.01,371.35 L62.88,372.65 L63.74,373.96 L64.59,375.26 L65.44,376.56 L66.29,377.86 L67.13,379.17 L67.96,380.47 L68.78,381.77 L69.60,383.07 L70.42,384.38 L71.22,385.68 L72.02,386.98 L72.82,388.28 L73.61,389.59 L74.39,390.89 L75.17,392.19 L75.94,393.49 L76.70,394.80 L77.46,396.10 L78.21,397.40 L78.96,398.70 L79.70,400.01 L80.44,401.31 L81.17,402.61 L81.89,403.91 L82.61,405.22 L83.32,406.52 L84.02,407.82 L84.72,409.12 L85.42,410.43 L86.11,411.73 L86.79,413.03 L87.47,414.33 L88.14,415.64 L88.80,416.94 L89.46,418.24 L90.12,419.54 L90.77,420.85 L91.41,422.15 L92.05,423.45 L92.68,424.75 L93.31,426.06 L93.93,427.36 L94.54,428.66 L95.15,429.96 L95.76,431.27 L96.36,432.57 L96.95,433.87 L97.54,435.17 L98.12,436.48 L98.70,437.78 L99.27,439.08 L99.83,440.38 L100.39,441.69 L100.95,442.99 L101.50,444.29 L102.05,445.59 L102.58,446.90 L103.12,448.20 L103.65,449.50 L104.17,450.80 L104.69,452.11 L105.20,453.41 L105.71,454.71 L106.22,456.01 L106.71,457.32 L107.21,458.62 L107.69,459.92 L108.18,461.22 L108.65,462.53 L109.13,463.83 L109.59,465.13 L110.06,466.43 L110.51,467.74 L110.96,469.04 L111.41,470.34 L111.85,471.64 L112.29,472.95 L112.72,474.25 L113.15,475.55 L113.57,476.85 L113.99,478.16 L114.40,479.46 L114.81,480.76 L115.22,482.06 L115.61,483.37 L116.01,484.67 L116.40,485.97 L116.78,487.27 L117.16,488.58 L117.54,489.88 L117.91,491.18 L118.27,492.48 L118.63,493.79 L118.99,495.09 L119.34,496.39 L119.69,497.69 L120.03,499.00 L120.37,500.30 L120.70,501.60 L121.03,502.90 L121.35,504.21 L121.67,505.51 L121.99,506.81 L122.30,508.11 L122.60,509.42 L122.90,510.72 L123.20,512.02 L123.49,513.32 L123.78,514.63 L124.07,515.93 L124.35,517.23 L124.62,518.53 L124.89,519.84 L125.16,521.14 L125.42,522.44 L125.68,523.74 L125.93,525.05 L126.18,526.35 L126.43,527.65 L126.67,528.95 L126.91,530.26 L127.14,531.56 L127.37,532.86 L127.60,534.16 L127.82,535.47 L128.03,536.77 L128.25,538.07 L128.45,539.37 L128.66,540.68 L128.86,541.98 L129.06,543.28 L129.25,544.58 L129.44,545.89 L129.62,547.19 L129.80,548.49 L129.98,549.79 L130.15,551.10 L130.32,552.40 L130.49,553.70 L130.65,555.00 L130.80,556.31 L130.96,557.61 L131.11,558.91 L131.25,560.21 L131.39,561.52 L131.53,562.82 L131.67,564.12 L131.80,565.42 L131.92,566.73 L132.05,568.03 L132.17,569.33 L132.28,570.63 L132.39,571.94 L132.50,573.24 L132.61,574.54 L132.71,575.84 L132.80,577.15 L132.90,578.45 L132.99,579.75 L133.07,581.05 L133.15,582.36 L133.23,583.66 L133.31,584.96 L133.38,586.26 L133.44,587.57 L133.51,588.87 L133.57,590.17 L133.62,591.47 L133.67,592.78 L133.72,594.08 L133.76,595.38 L133.80,596.68 L133.84,597.99 L133.87,599.29 L133.89,600.59 L133.91,601.89 L133.92,603.20 L133.93,604.50 L143.27,604.50 L143.28,603.20 L143.29,601.89 L143.31,600.59 L143.33,599.29 L143.36,597.99 L143.40,596.68 L143.44,595.38 L143.48,594.08 L143.53,592.78 L143.58,591.47 L143.63,590.17 L143.69,588.87 L143.76,587.57 L143.82,586.26 L143.89,584.96 L143.97,583.66 L144.05,582.36 L144.13,581.05 L144.21,579.75 L144.30,578.45 L144.40,577.15 L144.49,575.84 L144.59,574.54 L144.70,573.24 L144.81,571.94 L144.92,570.63 L145.03,569.33 L145.15,568.03 L145.28,566.73 L145.40,565.42 L145.53,564.12 L145.67,562.82 L145.81,561.52 L145.95,560.21 L146.09,558.91 L146.24,557.61 L146.40,556.31 L146.55,555.00 L146.71,553.70 L146.88,552.40 L147.05,551.10 L147.22,549.79 L147.40,548.49 L147.58,547.19 L147.76,545.89 L147.95,544.58 L148.14,543.28 L148.34,541.98 L148.54,540.68 L148.75,539.37 L148.95,538.07 L149.17,536.77 L149.38,535.47 L149.60,534.16 L149.83,532.86 L150.06,531.56 L150.29,530.26 L150.53,528.95 L150.77,527.65 L151.02,526.35 L151.27,525.05 L151.52,523.74 L151.78,522.44 L152.04,521.14 L152.31,519.84 L152.58,518.53 L152.85,517.23 L153.13,515.93 L153.42,514.63 L153.71,513.32 L154.00,512.02 L154.30,510.72 L154.60,509.42 L154.90,508.11 L155.21,506.81 L155.53,505.51 L155.85,504.21 L156.17,502.90 L156.50,501.60 L156.83,500.30 L157.17,499.00 L157.51,497.69 L157.86,496.39 L158.21,495.09 L158.57,493.79 L158.93,492.48 L159.29,491.18 L159.66,489.88 L160.04,488.58 L160.42,487.27 L160.80,485.97 L161.19,484.67 L161.59,483.37 L161.98,482.06 L162.39,480.76 L162.80,479.46 L163.21,478.16 L163.63,476.85 L164.05,475.55 L164.48,474.25 L164.91,472.95 L165.35,471.64 L165.79,470.34 L166.24,469.04 L166.69,467.74 L167.14,466.43 L167.61,465.13 L168.07,463.83 L168.55,462.53 L169.02,461.22 L169.51,459.92 L169.99,458.62 L170.49,457.32 L170.98,456.01 L171.49,454.71 L172.00,453.41 L172.51,452.11 L173.03,450.80 L173.55,449.50 L174.08,448.20 L174.62,446.90 L175.15,445.59 L175.70,444.29 L176.25,442.99 L176.81,441.69 L177.37,440.38 L177.93,439.08 L178.50,437.78 L179.08,436.48 L179.66,435.17 L180.25,433.87 L180.84,432.57 L181.44,431.27 L182.05,429.96 L182.66,428.66 L183.27,427.36 L183.89,426.06 L184.52,424.75 L185.15,423.45 L185.79,422.15 L186.43,420.85 L187.08,419.54 L187.74,418.24 L188.40,416.94 L189.06,415.64 L189.73,414.33 L190.41,413.03 L191.09,411.73 L191.78,410.43 L192.48,409.12 L193.18,407.82 L193.88,406.52 L194.59,405.22 L195.31,403.91 L196.03,402.61 L196.76,401.31 L197.50,400.01 L198.24,398.70 L198.99,397.40 L199.74,396.10 L200.50,394.80 L201.26,393.49 L202.03,392.19 L202.81,390.89 L203.59,389.59 L204.38,388.28 L205.18,386.98 L205.98,385.68 L206.78,384.38 L207.60,383.07 L208.42,381.77 L209.24,380.47 L210.07,379.17 L210.91,377.86 L211.76,376.56 L212.61,375.26 L213.46,373.96 L214.32,372.65 L215.19,371.35 L216.07,370.05 L216.95,368.75 L217.84,367.44 L218.73,366.14 L219.63,364.84 L220.54,363.54 L221.45,362.23 L222.37,360.93 L223.29,359.63 L224.23,358.33 L225.16,357.02 L226.11,355.72 L227.06,354.42 L228.02,353.12 L228.98,351.81 L229.95,350.51 L230.93,349.21 L231.91,347.91 L232.90,346.60 L233.90,345.30 Z" fill="#3b4a9e"/>
<path d="M134.6,604.5 L134.2,593.9 L133.7,583.7 L133.4,579.3 L132.2,566.7 L131.2,557.7 L130.2,549.3 L128.8,539.9 L127.4,531.5 L125.8,522.9 L124.2,514.9 L122.2,506.5 L120.2,498.3 L118.0,490.1 L115.6,481.9 L113.0,473.7 L110.2,465.5 L107.2,457.3 L104.2,449.5 L100.9,441.7 L97.6,434.1 L94.2,426.7 L90.6,419.3 L86.8,411.9 L82.6,404.3 L78.2,396.5 L73.8,389.1 L69.2,381.7 L64.2,374.1 L59.6,367.3 L54.8,360.5 L49.8,353.7 L44.1,346.2 L44.1,346.1 L43.5,345.5 L51.3,345.4 L109.5,345.4 L224.1,345.4 L233.7,345.5 L233.1,346.1 L233.1,346.2 L227.4,353.7 L222.4,360.5 L217.6,367.3 L213.0,374.1 L208.0,381.7 L203.4,389.1 L199.0,396.5 L194.6,404.3 L190.4,411.9 L186.6,419.3 L183.0,426.7 L179.6,434.1 L176.3,441.7 L173.0,449.5 L170.0,457.3 L167.0,465.5 L164.2,473.7 L161.6,481.9 L159.2,490.1 L157.0,498.3 L155.0,506.5 L153.0,514.9 L151.4,522.9 L149.8,531.5 L148.4,539.9 L147.0,549.3 L146.0,557.7 L145.0,566.7 L143.8,579.3 L143.5,583.7 L143.0,593.9 L142.6,604.5Z" fill="#3f4fa1"/>
<path d="M136.4,604.5 L135.9,599.3 L134.3,579.5 L133.7,574.9 L132.0,559.1 L130.8,550.3 L129.6,541.7 L128.2,532.9 L126.8,524.9 L125.2,516.9 L123.4,508.7 L121.4,500.3 L119.4,492.5 L117.2,484.7 L114.7,476.3 L112.1,468.3 L109.4,460.7 L106.6,453.1 L103.6,445.3 L100.5,437.9 L97.3,430.9 L93.8,423.5 L90.4,416.7 L86.6,409.5 L82.6,402.3 L78.2,394.7 L73.7,387.3 L68.8,379.7 L63.6,371.9 L59.2,365.7 L55.2,360.1 L43.7,345.5 L51.7,345.4 L108.9,345.4 L223.7,345.4 L233.5,345.5 L222.0,360.1 L218.0,365.7 L213.6,371.9 L208.4,379.7 L203.5,387.3 L199.0,394.7 L194.6,402.3 L190.6,409.5 L186.8,416.7 L183.4,423.5 L179.9,430.9 L176.7,437.9 L173.6,445.3 L170.6,453.1 L167.8,460.7 L165.1,468.3 L162.5,476.3 L160.0,484.7 L157.8,492.5 L155.8,500.3 L153.8,508.7 L152.0,516.9 L150.4,524.9 L149.0,532.9 L147.6,541.7 L146.4,550.3 L145.2,559.1 L143.5,574.9 L142.9,579.5 L141.3,599.3 L140.8,604.5Z" fill="#4664ad"/>
<path d="M138.9,593.8 L138.7,593.9 L138.3,593.8 L137.9,593.2 L137.7,592.7 L137.1,590.7 L136.7,588.4 L135.6,579.5 L134.7,575.6 L134.1,571.6 L132.0,554.3 L129.2,535.3 L126.8,521.5 L124.0,508.1 L122.2,500.5 L120.2,492.7 L118.2,485.5 L116.0,477.9 L113.8,470.9 L111.4,463.5 L108.9,456.3 L106.2,449.3 L103.4,442.1 L100.6,435.5 L97.8,429.3 L94.8,422.9 L91.6,416.5 L88.1,409.9 L84.4,403.3 L80.6,396.9 L76.4,390.1 L71.8,382.9 L66.7,375.3 L62.0,368.5 L55.6,359.9 L43.9,345.5 L52.1,345.4 L111.1,345.4 L223.3,345.4 L233.3,345.5 L221.6,359.9 L215.0,368.7 L210.5,375.3 L205.4,382.9 L200.8,390.1 L196.4,397.3 L192.4,404.1 L188.8,410.5 L185.4,416.9 L182.2,423.3 L179.2,429.7 L176.2,436.3 L173.4,443.1 L170.7,450.1 L168.1,457.1 L165.6,464.1 L163.0,471.9 L160.8,479.1 L158.6,486.9 L156.6,494.3 L154.6,502.1 L152.8,510.1 L150.0,523.5 L147.8,536.5 L145.2,554.5 L143.1,571.6 L142.5,575.6 L141.6,579.5 L140.5,588.4 L139.7,592.1 L139.3,593.2 L138.9,593.8Z" fill="#4c9ad5"/>
<path d="M138.9,579.3 L138.5,579.4 L137.9,579.1 L137.3,578.6 L136.9,578.0 L136.5,577.2 L136.0,575.7 L135.3,573.0 L134.7,569.7 L133.7,561.7 L131.2,544.3 L128.6,527.5 L127.0,519.1 L125.6,511.9 L123.6,503.3 L121.7,495.5 L120.0,488.7 L117.8,480.9 L115.8,474.1 L113.6,467.1 L109.1,454.1 L106.5,447.1 L104.0,440.7 L101.6,434.9 L99.0,429.1 L95.8,422.3 L92.8,416.5 L89.6,410.5 L86.3,404.5 L82.6,398.3 L78.8,392.1 L74.4,385.3 L70.0,378.7 L65.4,372.1 L61.2,366.3 L56.2,359.7 L44.2,345.5 L52.3,345.4 L109.9,345.4 L222.9,345.4 L233.0,345.5 L221.0,359.7 L216.0,366.3 L211.8,372.1 L207.2,378.7 L202.4,385.9 L198.2,392.5 L194.2,398.9 L190.6,405.1 L187.2,411.1 L184.1,417.1 L181.2,422.7 L178.0,429.5 L175.4,435.3 L172.8,441.5 L170.3,447.9 L167.5,455.5 L165.2,462.3 L162.8,469.5 L158.8,482.9 L156.8,490.3 L154.8,498.1 L153.0,505.7 L151.2,513.9 L149.8,521.1 L148.4,528.7 L145.8,545.5 L143.5,561.7 L142.5,569.7 L142.1,572.0 L141.5,574.9 L140.7,577.2 L139.9,578.6 L139.5,579.0 L138.9,579.3Z" fill="#5bc2d6"/>
<path d="M138.9,574.9 L138.5,574.9 L138.1,574.8 L137.7,574.5 L137.3,573.9 L136.5,572.1 L135.8,569.7 L132.6,548.9 L130.2,533.1 L128.4,522.7 L127.0,515.3 L125.4,507.7 L123.8,500.5 L121.8,492.3 L117.8,477.5 L113.4,463.3 L111.0,456.1 L108.4,448.9 L106.2,443.1 L104.0,437.5 L101.6,431.9 L99.2,426.7 L96.0,420.1 L92.8,413.9 L89.6,408.1 L86.2,402.3 L82.6,396.3 L78.7,390.1 L74.2,383.3 L69.4,376.3 L65.2,370.5 L61.2,365.1 L56.9,359.7 L44.4,345.5 L52.7,345.4 L109.3,345.4 L222.5,345.4 L232.8,345.5 L220.3,359.7 L216.0,365.1 L212.0,370.5 L207.6,376.7 L202.8,383.7 L198.4,390.3 L194.6,396.3 L190.8,402.5 L187.4,408.5 L184.2,414.3 L181.0,420.5 L177.8,427.1 L175.3,432.5 L173.0,438.1 L170.4,444.5 L167.8,451.5 L165.6,457.9 L163.4,464.5 L161.0,472.1 L159.0,478.9 L156.8,487.1 L155.0,494.1 L153.2,501.5 L151.4,509.3 L149.8,517.1 L148.6,523.7 L147.0,533.3 L144.6,548.9 L141.4,569.7 L140.7,572.1 L140.1,573.5 L139.5,574.5 L138.9,574.9Z" fill="#69c4b3"/>
<path d="M138.7,569.7 L138.3,569.7 L138.1,569.5 L137.5,568.6 L136.9,566.9 L136.1,563.6 L134.9,557.7 L133.7,551.0 L130.4,529.5 L128.3,517.5 L125.4,503.7 L122.0,489.7 L118.0,474.9 L113.8,460.9 L111.4,453.9 L108.8,446.5 L106.6,440.7 L104.4,435.1 L101.8,429.3 L98.8,422.9 L96.2,417.7 L93.2,412.1 L89.9,406.3 L86.4,400.3 L82.6,394.3 L78.6,388.1 L74.2,381.7 L69.4,374.9 L65.4,369.5 L61.4,364.3 L57.6,359.7 L44.7,345.5 L53.1,345.4 L111.3,345.4 L222.3,345.4 L232.5,345.5 L219.6,359.7 L215.8,364.3 L211.8,369.5 L207.8,374.9 L202.9,381.9 L198.4,388.5 L194.3,394.7 L190.6,400.7 L187.1,406.5 L184.0,412.1 L181.0,417.7 L178.4,422.9 L175.4,429.3 L172.8,435.3 L170.6,440.7 L168.4,446.5 L165.6,454.3 L163.4,461.1 L159.0,475.5 L155.0,490.3 L151.8,503.9 L148.8,518.1 L146.8,529.7 L143.8,548.9 L141.9,559.8 L140.9,564.6 L140.1,567.5 L139.7,568.6 L139.3,569.3 L138.9,569.7 L138.7,569.7Z" fill="#70c091"/>
<path d="M138.7,561.7 L138.3,561.7 L137.9,561.4 L137.5,560.8 L137.1,560.1 L136.3,557.8 L135.3,553.8 L134.3,548.7 L133.0,541.1 L130.8,526.9 L128.4,513.7 L126.6,505.1 L125.0,498.1 L123.0,489.7 L120.8,481.1 L118.8,473.9 L116.8,466.9 L113.0,454.9 L108.6,442.3 L106.6,437.1 L104.4,431.9 L102.2,426.9 L98.9,420.1 L96.1,414.7 L93.0,409.1 L89.8,403.7 L86.2,397.9 L82.4,391.9 L78.2,385.7 L73.4,378.9 L69.0,372.9 L65.2,367.9 L61.4,363.1 L58.3,359.5 L50.5,351.5 L44.9,345.5 L110.1,345.4 L221.9,345.4 L232.3,345.5 L226.7,351.5 L218.9,359.5 L215.8,363.1 L212.0,367.9 L208.2,372.9 L203.8,378.9 L199.0,385.7 L194.8,391.9 L191.0,397.9 L187.4,403.7 L184.2,409.1 L181.1,414.7 L178.3,420.1 L175.0,426.9 L172.8,431.9 L170.6,437.1 L168.6,442.3 L164.0,455.5 L160.2,467.7 L158.0,475.1 L156.2,481.9 L154.0,490.5 L152.0,498.7 L150.4,506.1 L148.6,514.5 L146.2,527.9 L144.2,541.1 L142.9,548.7 L141.9,553.8 L141.1,557.1 L140.3,559.6 L139.5,561.1 L139.1,561.6 L138.7,561.7Z" fill="#6fb86e"/>
<path d="M138.9,555.2 L138.5,555.2 L138.1,555.1 L137.7,554.7 L137.3,554.1 L136.5,552.2 L135.5,548.7 L134.0,541.1 L132.4,530.5 L131.0,522.3 L128.8,510.7 L126.9,501.7 L124.8,492.9 L120.6,476.1 L116.4,461.5 L112.2,448.5 L108.6,438.5 L106.8,433.9 L105.0,429.7 L101.8,422.9 L99.6,418.5 L96.7,413.1 L93.6,407.5 L90.2,401.9 L86.4,395.9 L82.4,389.9 L78.2,383.9 L73.2,376.9 L69.1,371.5 L65.4,366.7 L61.9,362.5 L59.1,359.5 L50.9,351.3 L45.2,345.5 L109.5,345.4 L232.0,345.5 L226.3,351.3 L218.1,359.5 L215.2,362.7 L211.5,367.1 L207.8,371.9 L203.6,377.5 L198.8,384.1 L194.7,390.1 L190.7,396.1 L187.0,401.9 L183.6,407.5 L180.5,413.1 L177.6,418.5 L175.2,423.3 L172.1,429.9 L170.0,434.9 L168.0,440.1 L166.0,445.5 L163.8,452.1 L160.0,464.1 L156.2,477.7 L152.2,493.5 L150.2,502.3 L148.4,510.9 L146.2,522.3 L144.8,530.5 L143.2,541.1 L141.7,548.7 L140.9,551.6 L140.3,553.2 L139.5,554.7 L138.9,555.2Z" fill="#72b842"/>
<path d="M138.9,548.7 L138.5,548.8 L138.1,548.6 L137.7,548.2 L137.3,547.5 L136.3,544.8 L135.3,541.1 L131.8,520.5 L128.8,505.7 L125.0,489.1 L122.6,479.1 L120.6,471.7 L116.8,458.5 L112.6,445.3 L109.2,435.9 L107.4,431.7 L105.6,427.5 L102.6,421.3 L100.2,416.5 L97.2,410.9 L94.0,405.5 L90.5,399.9 L86.8,394.1 L82.6,388.1 L78.2,381.9 L73.4,375.5 L69.6,370.5 L66.0,366.1 L62.4,361.9 L60.1,359.5 L51.5,351.4 L45.5,345.5 L231.7,345.5 L225.7,351.4 L217.1,359.5 L214.8,361.9 L211.2,366.1 L207.6,370.5 L203.8,375.5 L199.0,381.9 L194.4,388.3 L190.2,394.5 L186.4,400.3 L182.9,405.9 L179.8,411.3 L176.8,416.9 L174.4,421.7 L171.4,427.9 L169.6,432.1 L167.8,436.5 L166.0,441.3 L164.4,446.1 L160.0,459.7 L156.0,473.9 L151.6,491.3 L147.8,508.5 L145.2,521.7 L141.9,541.1 L141.1,544.1 L140.3,546.6 L139.5,548.2 L138.9,548.7Z" fill="#77b93c"/>
<path d="M138.9,540.9 L138.7,541.0 L138.3,540.9 L137.7,540.2 L137.1,538.7 L136.3,535.8 L135.3,531.3 L131.4,511.9 L127.2,492.9 L123.0,475.9 L119.0,461.1 L114.8,447.3 L112.0,438.9 L108.8,430.9 L104.9,422.3 L102.2,416.9 L99.3,411.5 L96.0,405.9 L92.6,400.5 L88.8,394.7 L84.6,388.7 L80.4,382.9 L75.0,375.7 L68.6,367.7 L65.7,364.3 L62.6,360.9 L60.7,359.1 L51.9,351.2 L45.9,345.5 L231.3,345.5 L225.3,351.2 L216.5,359.1 L214.6,360.9 L211.5,364.3 L208.4,367.9 L201.7,376.3 L196.6,383.1 L192.1,389.3 L188.0,395.3 L184.2,401.1 L180.7,406.7 L177.6,412.1 L174.6,417.7 L172.1,422.7 L168.2,431.3 L166.6,435.3 L165.0,439.5 L162.0,448.5 L159.6,456.3 L157.6,463.1 L154.0,476.5 L150.0,493.1 L145.8,511.9 L141.9,531.3 L140.9,535.8 L139.9,539.3 L139.3,540.5 L138.9,540.9Z" fill="#7dbd39"/>
<path d="M138.9,528.8 L138.5,528.8 L138.1,528.6 L137.7,528.2 L137.3,527.6 L136.5,525.7 L135.7,523.1 L133.5,514.2 L128.0,490.5 L124.2,474.7 L120.4,460.3 L116.4,447.1 L113.9,439.5 L111.4,432.7 L109.0,427.1 L104.9,418.5 L102.1,413.3 L99.2,408.1 L96.0,402.9 L92.4,397.3 L88.4,391.5 L84.2,385.7 L79.2,379.1 L74.5,373.1 L68.8,366.3 L63.6,360.7 L61.8,359.1 L52.7,351.3 L46.3,345.5 L230.9,345.5 L224.5,351.3 L215.4,359.1 L213.6,360.7 L208.2,366.5 L202.6,373.3 L197.4,379.9 L192.6,386.3 L188.4,392.1 L184.6,397.7 L180.9,403.3 L177.8,408.5 L174.8,413.7 L172.2,418.7 L167.8,428.1 L165.0,434.9 L162.2,442.7 L158.8,453.5 L156.0,463.3 L152.6,476.5 L149.0,491.1 L143.9,513.4 L141.7,522.3 L140.9,525.1 L140.3,526.7 L139.5,528.2 L138.9,528.8Z" fill="#8cc43b"/>
<path d="M138.9,517.4 L138.3,517.4 L137.9,517.2 L137.3,516.5 L136.7,515.6 L135.5,512.7 L134.3,508.9 L131.1,496.6 L126.2,476.3 L123.0,463.7 L120.4,454.3 L118.0,446.1 L116.4,441.1 L114.2,434.9 L111.9,429.1 L108.0,420.7 L104.9,414.5 L102.2,409.7 L99.2,404.7 L95.8,399.5 L92.2,394.1 L88.4,388.9 L84.2,383.3 L78.6,376.1 L74.3,370.9 L69.4,365.3 L64.7,360.5 L53.5,351.4 L46.7,345.5 L230.5,345.5 L223.7,351.4 L212.5,360.5 L207.6,365.5 L202.5,371.3 L198.5,376.3 L192.8,383.5 L188.6,389.1 L184.6,394.7 L181.0,400.1 L177.8,405.1 L174.8,410.1 L172.0,415.1 L169.0,421.1 L165.2,429.5 L162.8,435.5 L160.6,441.9 L156.8,454.5 L154.2,463.9 L151.0,476.3 L146.1,496.6 L143.1,508.2 L141.9,512.1 L140.9,514.7 L139.9,516.5 L139.5,517.0 L138.9,517.4Z" fill="#a7cc3f"/>
<path d="M139.1,506.9 L138.5,507.0 L137.9,506.8 L137.3,506.3 L136.7,505.5 L136.1,504.4 L135.3,502.5 L133.7,497.9 L132.7,494.4 L130.0,484.1 L127.4,473.5 L123.4,458.1 L119.5,444.3 L116.9,436.5 L114.4,429.9 L110.7,421.7 L108.0,416.1 L104.9,410.5 L102.2,405.9 L99.2,401.1 L95.8,396.1 L92.2,391.1 L88.2,385.7 L83.8,380.1 L78.7,373.9 L74.8,369.3 L70.2,364.3 L66.0,360.3 L54.3,351.3 L47.3,345.5 L229.9,345.5 L222.9,351.3 L211.2,360.3 L206.9,364.5 L202.2,369.5 L198.0,374.5 L192.6,381.1 L188.4,386.5 L184.4,391.9 L180.7,397.1 L177.4,402.1 L174.4,406.9 L171.8,411.3 L168.6,417.3 L166.0,422.7 L162.4,430.9 L159.8,437.9 L157.4,445.3 L153.6,458.9 L149.8,473.7 L147.2,484.1 L143.9,496.6 L142.5,500.9 L141.3,504.0 L140.7,505.1 L140.1,506.1 L139.5,506.7 L139.1,506.9Z" fill="#d3dd45"/>
<path d="M138.9,496.1 L138.3,496.1 L137.7,495.9 L137.1,495.3 L136.3,494.2 L134.9,491.2 L133.3,486.7 L132.4,483.9 L126.0,459.5 L122.2,445.7 L120.2,439.1 L118.2,433.5 L116.1,428.3 L111.8,418.7 L108.9,412.9 L105.4,406.9 L102.7,402.5 L99.6,397.9 L96.2,393.1 L92.6,388.3 L88.4,382.9 L83.0,376.3 L79.2,371.9 L75.6,367.9 L71.5,363.7 L67.8,360.3 L55.3,351.3 L47.9,345.5 L229.3,345.5 L221.9,351.3 L209.4,360.3 L205.7,363.7 L201.6,367.9 L198.0,371.9 L194.2,376.3 L188.8,382.9 L184.4,388.5 L180.9,393.3 L177.6,397.9 L174.4,402.7 L171.7,407.1 L168.2,413.1 L165.2,419.1 L161.0,428.5 L158.7,434.1 L156.8,439.7 L154.8,446.3 L151.4,458.7 L144.9,483.5 L144.3,485.5 L142.7,490.2 L141.3,493.4 L140.7,494.5 L140.1,495.3 L139.5,495.9 L138.9,496.1Z" fill="#f4d23b"/>
<path d="M138.9,483.9 L138.3,483.9 L137.7,483.7 L137.1,483.2 L136.5,482.4 L135.9,481.3 L135.1,479.7 L133.7,476.0 L131.3,468.7 L123.5,440.7 L121.6,435.1 L119.7,429.9 L115.6,420.5 L113.0,415.1 L109.4,408.5 L105.5,402.1 L102.6,397.9 L99.6,393.7 L96.2,389.1 L92.6,384.5 L83.6,373.9 L80.0,369.9 L76.8,366.5 L72.8,362.7 L69.7,360.1 L56.3,351.1 L48.6,345.5 L228.6,345.5 L220.9,351.1 L207.5,360.1 L204.4,362.7 L200.4,366.5 L197.2,369.9 L193.6,373.9 L188.8,379.5 L184.3,384.9 L180.9,389.3 L177.4,393.9 L174.4,398.1 L171.6,402.3 L167.6,408.9 L164.0,415.5 L161.4,420.9 L157.2,430.7 L155.4,435.7 L153.6,441.1 L145.9,468.7 L143.7,475.5 L142.3,479.2 L141.1,481.7 L140.5,482.7 L139.9,483.4 L139.3,483.8 L138.9,483.9Z" fill="#f59a34"/>
<path d="M139.3,468.5 L138.7,468.7 L138.1,468.6 L137.5,468.3 L136.9,467.8 L136.3,467.0 L135.5,465.7 L134.1,462.8 L132.3,458.0 L129.8,450.7 L127.2,441.5 L124.8,434.3 L122.8,429.1 L120.9,424.9 L119.0,420.1 L117.3,416.5 L114.6,411.1 L111.6,405.9 L108.2,400.5 L104.1,394.7 L101.0,390.5 L97.7,386.3 L89.7,376.9 L83.5,370.1 L80.7,367.3 L77.7,364.5 L74.3,361.5 L72.2,359.9 L58.2,351.3 L49.6,345.5 L227.6,345.5 L219.0,351.3 L205.0,359.9 L202.9,361.5 L199.2,364.7 L196.3,367.5 L193.1,370.7 L186.4,378.1 L182.2,383.1 L178.6,387.5 L175.1,391.9 L172.2,395.9 L168.2,401.7 L164.7,407.3 L161.7,412.9 L158.9,418.5 L156.3,424.9 L154.2,429.7 L152.2,434.9 L150.0,441.7 L147.5,450.5 L145.3,456.9 L143.7,461.3 L142.5,464.1 L141.3,466.4 L140.3,467.8 L139.7,468.3 L139.3,468.5Z" fill="#ee6a2e"/>
<path d="M138.9,450.5 L138.3,450.5 L137.9,450.4 L136.9,449.7 L135.9,448.4 L134.7,446.3 L133.1,442.7 L128.6,431.5 L125.5,424.9 L124.2,421.1 L122.6,417.3 L120.3,412.3 L117.6,407.3 L114.5,402.1 L110.8,396.7 L106.8,391.3 L102.1,385.5 L95.1,377.5 L89.3,371.3 L84.3,366.5 L79.1,362.1 L77.2,360.7 L75.4,359.5 L60.6,351.3 L55.5,348.3 L51.0,345.5 L226.2,345.5 L221.7,348.3 L216.6,351.3 L201.8,359.5 L200.0,360.7 L197.9,362.3 L192.7,366.7 L187.5,371.7 L181.3,378.3 L174.6,386.1 L169.9,391.9 L165.8,397.5 L162.2,402.9 L159.0,408.3 L156.7,412.7 L154.6,417.3 L153.0,421.1 L151.7,424.9 L148.6,431.5 L144.1,442.7 L142.7,445.9 L141.7,447.8 L140.7,449.3 L139.7,450.2 L138.9,450.5Z" fill="#e84532"/>
<path d="M139.3,424.7 L138.5,424.8 L137.7,424.6 L137.1,424.2 L136.3,423.1 L134.9,420.7 L130.4,411.5 L127.6,406.5 L123.8,400.5 L119.5,394.5 L115.1,389.1 L110.1,383.5 L103.6,376.7 L98.2,371.5 L94.6,368.3 L91.2,365.5 L87.5,362.7 L84.2,360.5 L80.9,358.8 L74.2,355.7 L64.1,350.9 L58.5,348.1 L53.6,345.5 L223.6,345.5 L218.7,348.1 L213.1,350.9 L203.0,355.7 L196.3,358.8 L193.0,360.5 L189.5,362.9 L185.7,365.7 L182.1,368.7 L178.3,372.1 L172.4,377.9 L165.8,384.9 L160.8,390.7 L156.4,396.3 L152.6,401.7 L149.0,407.5 L146.4,412.3 L142.5,420.3 L141.3,422.5 L140.3,423.9 L139.7,424.5 L139.3,424.7Z" fill="#e6352f"/>
<path d="M43.30,345.30 L44.30,346.60 L45.29,347.91 L46.27,349.21 L47.25,350.51 L48.22,351.81 L49.18,353.12 L50.14,354.42 L51.09,355.72 L52.04,357.02 L52.97,358.33 L53.91,359.63 L54.83,360.93 L55.75,362.23 L56.66,363.54 L57.57,364.84 L58.47,366.14 L59.36,367.44 L60.25,368.75 L61.13,370.05 L62.01,371.35 L62.88,372.65 L63.74,373.96 L64.59,375.26 L65.44,376.56 L66.29,377.86 L67.13,379.17 L67.96,380.47 L68.78,381.77 L69.60,383.07 L70.42,384.38 L71.22,385.68 L72.02,386.98 L72.82,388.28 L73.61,389.59 L74.39,390.89 L75.17,392.19 L75.94,393.49 L76.70,394.80 L77.46,396.10 L78.21,397.40 L78.96,398.70 L79.70,400.01 L80.44,401.31 L81.17,402.61 L81.89,403.91 L82.61,405.22 L83.32,406.52 L84.02,407.82 L84.72,409.12 L85.42,410.43 L86.11,411.73 L86.79,413.03 L87.47,414.33 L88.14,415.64 L88.80,416.94 L89.46,418.24 L90.12,419.54 L90.77,420.85 L91.41,422.15 L92.05,423.45 L92.68,424.75 L93.31,426.06 L93.93,427.36 L94.54,428.66 L95.15,429.96 L95.76,431.27 L96.36,432.57 L96.95,433.87 L97.54,435.17 L98.12,436.48 L98.70,437.78 L99.27,439.08 L99.83,440.38 L100.39,441.69 L100.95,442.99 L101.50,444.29 L102.05,445.59 L102.58,446.90 L103.12,448.20 L103.65,449.50 L104.17,450.80 L104.69,452.11 L105.20,453.41 L105.71,454.71 L106.22,456.01 L106.71,457.32 L107.21,458.62 L107.69,459.92 L108.18,461.22 L108.65,462.53 L109.13,463.83 L109.59,465.13 L110.06,466.43 L110.51,467.74 L110.96,469.04 L111.41,470.34 L111.85,471.64 L112.29,472.95 L112.72,474.25 L113.15,475.55 L113.57,476.85 L113.99,478.16 L114.40,479.46 L114.81,480.76 L115.22,482.06 L115.61,483.37 L116.01,484.67 L116.40,485.97 L116.78,487.27 L117.16,488.58 L117.54,489.88 L117.91,491.18 L118.27,492.48 L118.63,493.79 L118.99,495.09 L119.34,496.39 L119.69,497.69 L120.03,499.00 L120.37,500.30 L120.70,501.60 L121.03,502.90 L121.35,504.21 L121.67,505.51 L121.99,506.81 L122.30,508.11 L122.60,509.42 L122.90,510.72 L123.20,512.02 L123.49,513.32 L123.78,514.63 L124.07,515.93 L124.35,517.23 L124.62,518.53 L124.89,519.84 L125.16,521.14 L125.42,522.44 L125.68,523.74 L125.93,525.05 L126.18,526.35 L126.43,527.65 L126.67,528.95 L126.91,530.26 L127.14,531.56 L127.37,532.86 L127.60,534.16 L127.82,535.47 L128.03,536.77 L128.25,538.07 L128.45,539.37 L128.66,540.68 L128.86,541.98 L129.06,543.28 L129.25,544.58 L129.44,545.89 L129.62,547.19 L129.80,548.49 L129.98,549.79 L130.15,551.10 L130.32,552.40 L130.49,553.70 L130.65,555.00 L130.80,556.31 L130.96,557.61 L131.11,558.91 L131.25,560.21 L131.39,561.52 L131.53,562.82 L131.67,564.12 L131.80,565.42 L131.92,566.73 L132.05,568.03 L132.17,569.33 L132.28,570.63 L132.39,571.94 L132.50,573.24 L132.61,574.54 L132.71,575.84 L132.80,577.15 L132.90,578.45 L132.99,579.75 L133.07,581.05 L133.15,582.36 L133.23,583.66 L133.31,584.96 L133.38,586.26 L133.44,587.57 L133.51,588.87 L133.57,590.17 L133.62,591.47 L133.67,592.78 L133.72,594.08 L133.76,595.38 L133.80,596.68 L133.84,597.99 L133.87,599.29 L133.89,600.59 L133.91,601.89 L133.92,603.20 L133.93,604.50 M143.27,604.50 L143.28,603.20 L143.29,601.89 L143.31,600.59 L143.33,599.29 L143.36,597.99 L143.40,596.68 L143.44,595.38 L143.48,594.08 L143.53,592.78 L143.58,591.47 L143.63,590.17 L143.69,588.87 L143.76,587.57 L143.82,586.26 L143.89,584.96 L143.97,583.66 L144.05,582.36 L144.13,581.05 L144.21,579.75 L144.30,578.45 L144.40,577.15 L144.49,575.84 L144.59,574.54 L144.70,573.24 L144.81,571.94 L144.92,570.63 L145.03,569.33 L145.15,568.03 L145.28,566.73 L145.40,565.42 L145.53,564.12 L145.67,562.82 L145.81,561.52 L145.95,560.21 L146.09,558.91 L146.24,557.61 L146.40,556.31 L146.55,555.00 L146.71,553.70 L146.88,552.40 L147.05,551.10 L147.22,549.79 L147.40,548.49 L147.58,547.19 L147.76,545.89 L147.95,544.58 L148.14,543.28 L148.34,541.98 L148.54,540.68 L148.75,539.37 L148.95,538.07 L149.17,536.77 L149.38,535.47 L149.60,534.16 L149.83,532.86 L150.06,531.56 L150.29,530.26 L150.53,528.95 L150.77,527.65 L151.02,526.35 L151.27,525.05 L151.52,523.74 L151.78,522.44 L152.04,521.14 L152.31,519.84 L152.58,518.53 L152.85,517.23 L153.13,515.93 L153.42,514.63 L153.71,513.32 L154.00,512.02 L154.30,510.72 L154.60,509.42 L154.90,508.11 L155.21,506.81 L155.53,505.51 L155.85,504.21 L156.17,502.90 L156.50,501.60 L156.83,500.30 L157.17,499.00 L157.51,497.69 L157.86,496.39 L158.21,495.09 L158.57,493.79 L158.93,492.48 L159.29,491.18 L159.66,489.88 L160.04,488.58 L160.42,487.27 L160.80,485.97 L161.19,484.67 L161.59,483.37 L161.98,482.06 L162.39,480.76 L162.80,479.46 L163.21,478.16 L163.63,476.85 L164.05,475.55 L164.48,474.25 L164.91,472.95 L165.35,471.64 L165.79,470.34 L166.24,469.04 L166.69,467.74 L167.14,466.43 L167.61,465.13 L168.07,463.83 L168.55,462.53 L169.02,461.22 L169.51,459.92 L169.99,458.62 L170.49,457.32 L170.98,456.01 L171.49,454.71 L172.00,453.41 L172.51,452.11 L173.03,450.80 L173.55,449.50 L174.08,448.20 L174.62,446.90 L175.15,445.59 L175.70,444.29 L176.25,442.99 L176.81,441.69 L177.37,440.38 L177.93,439.08 L178.50,437.78 L179.08,436.48 L179.66,435.17 L180.25,433.87 L180.84,432.57 L181.44,431.27 L182.05,429.96 L182.66,428.66 L183.27,427.36 L183.89,426.06 L184.52,424.75 L185.15,423.45 L185.79,422.15 L186.43,420.85 L187.08,419.54 L187.74,418.24 L188.40,416.94 L189.06,415.64 L189.73,414.33 L190.41,413.03 L191.09,411.73 L191.78,410.43 L192.48,409.12 L193.18,407.82 L193.88,406.52 L194.59,405.22 L195.31,403.91 L196.03,402.61 L196.76,401.31 L197.50,400.01 L198.24,398.70 L198.99,397.40 L199.74,396.10 L200.50,394.80 L201.26,393.49 L202.03,392.19 L202.81,390.89 L203.59,389.59 L204.38,388.28 L205.18,386.98 L205.98,385.68 L206.78,384.38 L207.60,383.07 L208.42,381.77 L209.24,380.47 L210.07,379.17 L210.91,377.86 L211.76,376.56 L212.61,375.26 L213.46,373.96 L214.32,372.65 L215.19,371.35 L216.07,370.05 L216.95,368.75 L217.84,367.44 L218.73,366.14 L219.63,364.84 L220.54,363.54 L221.45,362.23 L222.37,360.93 L223.29,359.63 L224.23,358.33 L225.16,357.02 L226.11,355.72 L227.06,354.42 L228.02,353.12 L228.98,351.81 L229.95,350.51 L230.93,349.21 L231.91,347.91 L232.90,346.60 L233.90,345.30" fill="none" stroke="#2b3378" stroke-width="0.7"/>
<line x1="43.30" y1="345.30" x2="233.90" y2="345.30" stroke="#555" stroke-width="0.8"/>
<line x1="42.8" y1="344.8" x2="42.8" y2="605.0" stroke="#666" stroke-width="1"/>
<line x1="42.3" y1="604.5" x2="313.6" y2="604.5" stroke="#666" stroke-width="1"/>
<line x1="42.8" y1="345.3" x2="47.8" y2="345.3" stroke="#666" stroke-width="1"/>
<text x="39.0" y="349.6" text-anchor="end" class="tk" font-size="13.0">0.30</text>
<line x1="42.8" y1="387.3" x2="47.8" y2="387.3" stroke="#666" stroke-width="1"/>
<text x="39.0" y="391.6" text-anchor="end" class="tk" font-size="13.0">0.25</text>
<line x1="42.8" y1="431.3" x2="47.8" y2="431.3" stroke="#666" stroke-width="1"/>
<text x="39.0" y="435.6" text-anchor="end" class="tk" font-size="13.0">0.20</text>
<line x1="42.8" y1="475.0" x2="47.8" y2="475.0" stroke="#666" stroke-width="1"/>
<text x="39.0" y="479.3" text-anchor="end" class="tk" font-size="13.0">0.15</text>
<line x1="42.8" y1="518.7" x2="47.8" y2="518.7" stroke="#666" stroke-width="1"/>
<text x="39.0" y="523.0" text-anchor="end" class="tk" font-size="13.0">0.10</text>
<line x1="42.8" y1="562.8" x2="47.8" y2="562.8" stroke="#666" stroke-width="1"/>
<text x="39.0" y="567.1" text-anchor="end" class="tk" font-size="13.0">0.05</text>
<text x="39.0" y="608.8" text-anchor="end" class="tk" font-size="13.0">0</text>
<line x1="50.5" y1="604.5" x2="50.5" y2="599.5" stroke="#666" stroke-width="1"/>
<text x="55.2" y="615.1" text-anchor="middle" class="tk" font-size="13.0">−0.10</text>
<line x1="94.7" y1="604.5" x2="94.7" y2="599.5" stroke="#666" stroke-width="1"/>
<text x="95.0" y="615.1" text-anchor="middle" class="tk" font-size="13.0">−0.05</text>
<line x1="138.5" y1="604.5" x2="138.5" y2="599.5" stroke="#666" stroke-width="1"/>
<text x="138.8" y="615.1" text-anchor="middle" class="tk" font-size="13.0">0</text>
<line x1="182.0" y1="604.5" x2="182.0" y2="599.5" stroke="#666" stroke-width="1"/>
<text x="182.3" y="615.1" text-anchor="middle" class="tk" font-size="13.0">0.05</text>
<line x1="226.1" y1="604.5" x2="226.1" y2="599.5" stroke="#666" stroke-width="1"/>
<text x="226.4" y="615.1" text-anchor="middle" class="tk" font-size="13.0">0.10</text>
<line x1="269.3" y1="604.5" x2="269.3" y2="599.5" stroke="#666" stroke-width="1"/>
<text x="269.6" y="615.1" text-anchor="middle" class="tk" font-size="13.0">0.15</text>
<line x1="313.1" y1="604.5" x2="313.1" y2="599.5" stroke="#666" stroke-width="1"/>
<text x="313.4" y="615.1" text-anchor="middle" class="tk" font-size="13.0">0.20</text>
<line x1="42.6" y1="573.5" x2="42.6" y2="576.0" stroke="#222" stroke-width="1.1"/>
<text x="186.2" y="627.5" text-anchor="middle" class="tk" font-size="13" textLength="22.6" lengthAdjust="spacingAndGlyphs"><tspan font-style="italic">x</tspan>/m</text>
<text transform="translate(10.8,476.7) rotate(-90)" text-anchor="middle" class="tk" font-size="13" textLength="23.2" lengthAdjust="spacingAndGlyphs"><tspan font-style="italic">y</tspan>/m</text>
<text x="153.35" y="645.20" font-size="14.80" textLength="19.94" lengthAdjust="spacingAndGlyphs" class="cap" font-weight="bold">(b)</text>
<text x="177.10" y="645.20" font-size="14.30" textLength="20.96" lengthAdjust="spacingAndGlyphs" class="cap">300</text>
<text x="200.67" y="645.20" font-size="14.30" textLength="25.59" lengthAdjust="spacingAndGlyphs" class="cap">mm</text>
<rect x="259.1" y="361.90" width="14.5" height="6.40" fill="#e6352f"/>
<rect x="259.1" y="368.00" width="14.5" height="12.44" fill="#e84532"/>
<rect x="259.1" y="380.14" width="14.5" height="12.44" fill="#ee6a2e"/>
<rect x="259.1" y="392.28" width="14.5" height="12.44" fill="#f59a34"/>
<rect x="259.1" y="404.42" width="14.5" height="12.44" fill="#f4d23b"/>
<rect x="259.1" y="416.56" width="14.5" height="12.44" fill="#d3dd45"/>
<rect x="259.1" y="428.70" width="14.5" height="12.44" fill="#a7cc3f"/>
<rect x="259.1" y="440.84" width="14.5" height="12.44" fill="#8cc43b"/>
<rect x="259.1" y="452.98" width="14.5" height="12.44" fill="#7dbd39"/>
<rect x="259.1" y="465.12" width="14.5" height="12.44" fill="#77b93c"/>
<rect x="259.1" y="477.26" width="14.5" height="12.44" fill="#72b842"/>
<rect x="259.1" y="489.40" width="14.5" height="12.44" fill="#6fb86e"/>
<rect x="259.1" y="501.54" width="14.5" height="12.44" fill="#70c091"/>
<rect x="259.1" y="513.68" width="14.5" height="12.44" fill="#69c4b3"/>
<rect x="259.1" y="525.82" width="14.5" height="12.44" fill="#5bc2d6"/>
<rect x="259.1" y="537.96" width="14.5" height="12.44" fill="#4c9ad5"/>
<rect x="259.1" y="550.10" width="14.5" height="12.44" fill="#4664ad"/>
<rect x="259.1" y="562.24" width="14.5" height="12.44" fill="#3f4fa1"/>
<rect x="259.1" y="574.38" width="14.5" height="6.32" fill="#3b4a9e"/>
<line x1="259.1" y1="368.00" x2="273.6" y2="368.00" stroke="#1a1a1a" stroke-width="0.9" stroke-opacity="0.8"/>
<line x1="259.1" y1="380.14" x2="273.6" y2="380.14" stroke="#1a1a1a" stroke-width="0.9" stroke-opacity="0.8"/>
<line x1="259.1" y1="392.28" x2="273.6" y2="392.28" stroke="#1a1a1a" stroke-width="0.9" stroke-opacity="0.8"/>
<line x1="259.1" y1="404.42" x2="273.6" y2="404.42" stroke="#1a1a1a" stroke-width="0.9" stroke-opacity="0.8"/>
<line x1="259.1" y1="416.56" x2="273.6" y2="416.56" stroke="#1a1a1a" stroke-width="0.9" stroke-opacity="0.8"/>
<line x1="259.1" y1="428.70" x2="273.6" y2="428.70" stroke="#1a1a1a" stroke-width="0.9" stroke-opacity="0.8"/>
<line x1="259.1" y1="440.84" x2="273.6" y2="440.84" stroke="#1a1a1a" stroke-width="0.9" stroke-opacity="0.8"/>
<line x1="259.1" y1="452.98" x2="273.6" y2="452.98" stroke="#1a1a1a" stroke-width="0.9" stroke-opacity="0.8"/>
<line x1="259.1" y1="465.12" x2="273.6" y2="465.12" stroke="#1a1a1a" stroke-width="0.9" stroke-opacity="0.8"/>
<line x1="259.1" y1="489.40" x2="273.6" y2="489.40" stroke="#1a1a1a" stroke-width="0.9" stroke-opacity="0.8"/>
<line x1="259.1" y1="501.54" x2="273.6" y2="501.54" stroke="#1a1a1a" stroke-width="0.9" stroke-opacity="0.8"/>
<line x1="259.1" y1="513.68" x2="273.6" y2="513.68" stroke="#1a1a1a" stroke-width="0.9" stroke-opacity="0.8"/>
<line x1="259.1" y1="525.82" x2="273.6" y2="525.82" stroke="#1a1a1a" stroke-width="0.9" stroke-opacity="0.8"/>
<line x1="259.1" y1="537.96" x2="273.6" y2="537.96" stroke="#1a1a1a" stroke-width="0.9" stroke-opacity="0.8"/>
<line x1="259.1" y1="550.10" x2="273.6" y2="550.10" stroke="#1a1a1a" stroke-width="0.9" stroke-opacity="0.8"/>
<line x1="259.1" y1="562.24" x2="273.6" y2="562.24" stroke="#1a1a1a" stroke-width="0.9" stroke-opacity="0.8"/>
<line x1="259.1" y1="574.38" x2="273.6" y2="574.38" stroke="#1a1a1a" stroke-width="0.9" stroke-opacity="0.8"/>
<rect x="259.1" y="361.90" width="14.5" height="218.50" fill="none" stroke="#3a3a4a" stroke-width="0.6" stroke-opacity="0.8"/>
<text x="280.8" y="373.2" class="tk" font-size="13">660</text>
<text x="280.8" y="385.1" class="tk" font-size="13">640</text>
<text x="280.8" y="397.0" class="tk" font-size="13">620</text>
<text x="280.8" y="408.8" class="tk" font-size="13">600</text>
<text x="280.8" y="420.7" class="tk" font-size="13">580</text>
<text x="280.8" y="432.6" class="tk" font-size="13">560</text>
<text x="280.8" y="444.5" class="tk" font-size="13">540</text>
<text x="280.8" y="456.4" class="tk" font-size="13">520</text>
<text x="280.8" y="468.2" class="tk" font-size="13">500</text>
<text x="280.8" y="480.1" class="tk" font-size="13">480</text>
<text x="280.8" y="492.0" class="tk" font-size="13">460</text>
<text x="280.8" y="503.9" class="tk" font-size="13">440</text>
<text x="280.8" y="515.8" class="tk" font-size="13">420</text>
<text x="280.8" y="527.6" class="tk" font-size="13">400</text>
<text x="280.8" y="539.5" class="tk" font-size="13">380</text>
<text x="280.8" y="551.4" class="tk" font-size="13">360</text>
<text x="280.8" y="563.3" class="tk" font-size="13">340</text>
<text x="280.8" y="575.2" class="tk" font-size="13">320</text>
<text x="250.15" y="354.20" font-size="12.80" textLength="63.03" lengthAdjust="spacingAndGlyphs" class="tk">Temperature</text>
<path d="M45.50,683.50 L46.49,684.77 L47.47,686.04 L48.45,687.31 L49.42,688.58 L50.39,689.85 L51.35,691.12 L52.30,692.39 L53.25,693.66 L54.20,694.93 L55.13,696.20 L56.06,697.47 L56.99,698.74 L57.91,700.01 L58.82,701.28 L59.73,702.55 L60.63,703.82 L61.52,705.09 L62.41,706.36 L63.30,707.63 L64.17,708.90 L65.05,710.17 L65.91,711.44 L66.77,712.71 L67.63,713.98 L68.47,715.25 L69.32,716.52 L70.15,717.79 L70.98,719.06 L71.81,720.33 L72.63,721.60 L73.44,722.87 L74.25,724.14 L75.05,725.41 L75.84,726.67 L76.63,727.94 L77.42,729.21 L78.19,730.48 L78.97,731.75 L79.73,733.02 L80.49,734.29 L81.24,735.56 L81.99,736.83 L82.74,738.10 L83.47,739.37 L84.20,740.64 L84.93,741.91 L85.65,743.18 L86.36,744.45 L87.07,745.72 L87.77,746.99 L88.46,748.26 L89.15,749.53 L89.84,750.80 L90.51,752.07 L91.19,753.34 L91.85,754.61 L92.51,755.88 L93.17,757.15 L93.82,758.42 L94.46,759.69 L95.10,760.96 L95.73,762.23 L96.35,763.50 L96.97,764.77 L97.59,766.04 L98.20,767.31 L98.80,768.58 L99.39,769.85 L99.99,771.12 L100.57,772.39 L101.15,773.66 L101.72,774.93 L102.29,776.20 L102.86,777.47 L103.41,778.74 L103.96,780.01 L104.51,781.28 L105.05,782.55 L105.58,783.82 L106.11,785.09 L106.63,786.36 L107.15,787.63 L107.66,788.90 L108.17,790.17 L108.67,791.44 L109.16,792.71 L109.65,793.98 L110.13,795.25 L110.61,796.52 L111.08,797.79 L111.55,799.06 L112.01,800.33 L112.46,801.60 L112.91,802.87 L113.36,804.14 L113.80,805.41 L114.23,806.68 L114.66,807.95 L115.08,809.22 L115.50,810.48 L115.91,811.75 L116.31,813.02 L116.71,814.29 L117.11,815.56 L117.50,816.83 L117.88,818.10 L118.26,819.37 L118.64,820.64 L119.00,821.91 L119.37,823.18 L119.72,824.45 L120.08,825.72 L120.42,826.99 L120.76,828.26 L121.10,829.53 L121.43,830.80 L121.76,832.07 L122.08,833.34 L122.39,834.61 L122.70,835.88 L123.01,837.15 L123.31,838.42 L123.60,839.69 L123.89,840.96 L124.18,842.23 L124.45,843.50 L124.73,844.77 L125.00,846.04 L125.26,847.31 L125.52,848.58 L125.78,849.85 L126.02,851.12 L126.27,852.39 L126.51,853.66 L126.74,854.93 L126.97,856.20 L127.20,857.47 L127.42,858.74 L127.63,860.01 L127.84,861.28 L128.05,862.55 L128.25,863.82 L128.45,865.09 L128.64,866.36 L128.82,867.63 L129.01,868.90 L129.18,870.17 L129.36,871.44 L129.52,872.71 L129.69,873.98 L129.85,875.25 L130.00,876.52 L130.15,877.79 L130.30,879.06 L130.44,880.33 L130.58,881.60 L130.71,882.87 L130.84,884.14 L130.97,885.41 L131.09,886.68 L131.20,887.95 L131.32,889.22 L131.42,890.49 L131.53,891.76 L131.63,893.03 L131.72,894.29 L131.82,895.56 L131.90,896.83 L131.99,898.10 L132.07,899.37 L132.15,900.64 L132.22,901.91 L132.29,903.18 L132.35,904.45 L132.42,905.72 L132.48,906.99 L132.53,908.26 L132.58,909.53 L132.63,910.80 L132.68,912.07 L132.72,913.34 L132.76,914.61 L132.80,915.88 L132.83,917.15 L132.86,918.42 L132.89,919.69 L132.91,920.96 L132.93,922.23 L132.95,923.50 L132.97,924.77 L132.98,926.04 L132.99,927.31 L133.00,928.58 L133.01,929.85 L133.02,931.12 L133.02,932.39 L133.02,933.66 L133.03,934.93 L133.03,936.20 L139.37,936.20 L139.37,934.93 L139.38,933.66 L139.38,932.39 L139.38,931.12 L139.39,929.85 L139.40,928.58 L139.41,927.31 L139.42,926.04 L139.43,924.77 L139.45,923.50 L139.47,922.23 L139.49,920.96 L139.51,919.69 L139.54,918.42 L139.57,917.15 L139.60,915.88 L139.64,914.61 L139.68,913.34 L139.72,912.07 L139.77,910.80 L139.82,909.53 L139.87,908.26 L139.92,906.99 L139.98,905.72 L140.05,904.45 L140.11,903.18 L140.18,901.91 L140.25,900.64 L140.33,899.37 L140.41,898.10 L140.50,896.83 L140.58,895.56 L140.68,894.29 L140.77,893.03 L140.87,891.76 L140.98,890.49 L141.08,889.22 L141.20,887.95 L141.31,886.68 L141.43,885.41 L141.56,884.14 L141.69,882.87 L141.82,881.60 L141.96,880.33 L142.10,879.06 L142.25,877.79 L142.40,876.52 L142.55,875.25 L142.71,873.98 L142.88,872.71 L143.04,871.44 L143.22,870.17 L143.39,868.90 L143.58,867.63 L143.76,866.36 L143.95,865.09 L144.15,863.82 L144.35,862.55 L144.56,861.28 L144.77,860.01 L144.98,858.74 L145.20,857.47 L145.43,856.20 L145.66,854.93 L145.89,853.66 L146.13,852.39 L146.38,851.12 L146.62,849.85 L146.88,848.58 L147.14,847.31 L147.40,846.04 L147.67,844.77 L147.95,843.50 L148.22,842.23 L148.51,840.96 L148.80,839.69 L149.09,838.42 L149.39,837.15 L149.70,835.88 L150.01,834.61 L150.32,833.34 L150.64,832.07 L150.97,830.80 L151.30,829.53 L151.64,828.26 L151.98,826.99 L152.32,825.72 L152.68,824.45 L153.03,823.18 L153.40,821.91 L153.76,820.64 L154.14,819.37 L154.52,818.10 L154.90,816.83 L155.29,815.56 L155.69,814.29 L156.09,813.02 L156.49,811.75 L156.90,810.48 L157.32,809.22 L157.74,807.95 L158.17,806.68 L158.60,805.41 L159.04,804.14 L159.49,802.87 L159.94,801.60 L160.39,800.33 L160.85,799.06 L161.32,797.79 L161.79,796.52 L162.27,795.25 L162.75,793.98 L163.24,792.71 L163.73,791.44 L164.23,790.17 L164.74,788.90 L165.25,787.63 L165.77,786.36 L166.29,785.09 L166.82,783.82 L167.35,782.55 L167.89,781.28 L168.44,780.01 L168.99,778.74 L169.54,777.47 L170.11,776.20 L170.68,774.93 L171.25,773.66 L171.83,772.39 L172.41,771.12 L173.01,769.85 L173.60,768.58 L174.20,767.31 L174.81,766.04 L175.43,764.77 L176.05,763.50 L176.67,762.23 L177.30,760.96 L177.94,759.69 L178.58,758.42 L179.23,757.15 L179.89,755.88 L180.55,754.61 L181.21,753.34 L181.89,752.07 L182.56,750.80 L183.25,749.53 L183.94,748.26 L184.63,746.99 L185.33,745.72 L186.04,744.45 L186.75,743.18 L187.47,741.91 L188.20,740.64 L188.93,739.37 L189.66,738.10 L190.41,736.83 L191.16,735.56 L191.91,734.29 L192.67,733.02 L193.43,731.75 L194.21,730.48 L194.98,729.21 L195.77,727.94 L196.56,726.67 L197.35,725.41 L198.15,724.14 L198.96,722.87 L199.77,721.60 L200.59,720.33 L201.42,719.06 L202.25,717.79 L203.08,716.52 L203.93,715.25 L204.77,713.98 L205.63,712.71 L206.49,711.44 L207.35,710.17 L208.23,708.90 L209.10,707.63 L209.99,706.36 L210.88,705.09 L211.77,703.82 L212.67,702.55 L213.58,701.28 L214.49,700.01 L215.41,698.74 L216.34,697.47 L217.27,696.20 L218.20,694.93 L219.15,693.66 L220.10,692.39 L221.05,691.12 L222.01,689.85 L222.98,688.58 L223.95,687.31 L224.93,686.04 L225.91,684.77 L226.90,683.50 Z" fill="#3b4a9e"/>
<path d="M133.3,936.1 L133.1,920.5 L132.9,912.9 L132.3,899.9 L132.2,899.7 L132.1,896.9 L132.0,896.7 L131.5,889.1 L131.4,888.9 L131.3,886.9 L131.2,886.7 L130.7,880.9 L130.6,880.7 L129.9,874.1 L128.7,865.5 L127.5,858.1 L126.1,850.5 L124.3,841.9 L122.4,833.9 L120.4,826.1 L118.4,818.9 L116.0,811.1 L113.6,803.9 L110.8,796.3 L108.0,788.9 L104.8,781.3 L101.4,773.5 L97.8,765.9 L94.2,758.5 L90.2,750.9 L86.0,743.3 L81.6,735.7 L77.0,728.1 L72.2,720.5 L67.4,713.3 L62.6,706.3 L57.6,699.3 L49.1,687.9 L45.7,683.6 L45.7,683.5 L49.9,683.4 L63.9,683.4 L216.3,683.4 L226.7,683.5 L226.7,683.6 L223.3,687.9 L214.8,699.3 L209.8,706.3 L205.0,713.3 L200.2,720.5 L195.4,728.1 L190.8,735.7 L186.4,743.3 L182.2,750.9 L178.2,758.5 L174.6,765.9 L171.0,773.5 L167.6,781.3 L164.4,788.9 L161.6,796.3 L158.8,803.9 L156.4,811.1 L154.0,818.9 L152.0,826.1 L150.0,833.9 L148.1,841.9 L146.3,850.5 L144.9,858.1 L143.7,865.5 L142.5,874.1 L141.8,880.7 L141.7,880.9 L141.2,886.7 L141.1,886.9 L141.0,888.9 L140.9,889.1 L140.4,896.7 L140.3,896.9 L140.2,899.7 L140.1,899.9 L139.5,912.9 L139.3,920.5 L139.1,936.1Z" fill="#3f4fa1"/>
<path d="M133.9,936.1 L133.2,912.5 L132.2,896.3 L131.6,887.9 L130.8,879.9 L129.8,871.9 L128.8,864.3 L127.4,856.1 L126.0,848.3 L124.4,840.5 L122.6,832.7 L120.6,825.1 L118.6,817.7 L116.2,809.9 L113.8,802.7 L111.0,795.1 L108.1,787.5 L104.8,779.7 L101.4,772.1 L97.8,764.5 L94.0,756.9 L90.0,749.5 L85.8,741.9 L81.2,734.1 L76.6,726.5 L71.8,719.1 L66.6,711.3 L61.8,704.5 L57.3,698.3 L52.0,691.3 L45.8,683.5 L53.5,683.4 L108.9,683.4 L217.1,683.4 L226.6,683.5 L220.4,691.3 L215.1,698.3 L210.6,704.5 L205.8,711.3 L200.6,719.1 L195.8,726.5 L191.2,734.1 L186.6,741.9 L182.4,749.5 L178.4,756.9 L174.6,764.5 L171.0,772.1 L167.6,779.7 L164.3,787.5 L161.4,795.1 L158.6,802.7 L156.2,809.9 L153.8,817.7 L151.8,825.1 L149.8,832.7 L148.0,840.5 L146.4,848.3 L145.0,856.1 L143.6,864.3 L142.6,871.9 L141.6,879.9 L140.8,887.9 L140.2,896.3 L139.2,912.5 L138.5,936.1Z" fill="#4664ad"/>
<path d="M134.6,936.1 L133.4,909.3 L132.1,891.7 L131.5,883.7 L130.8,877.3 L129.8,869.7 L128.8,862.1 L127.4,853.9 L125.8,845.5 L124.2,837.9 L122.4,830.1 L120.4,822.3 L118.4,815.3 L116.2,807.9 L114.0,801.3 L111.2,793.9 L108.2,786.3 L105.0,778.7 L101.6,771.1 L98.0,763.7 L94.2,756.1 L90.0,748.3 L85.8,740.9 L81.2,733.1 L76.4,725.3 L71.2,717.3 L66.2,709.9 L61.8,703.7 L57.8,698.3 L52.8,691.9 L46.0,683.5 L53.9,683.4 L109.5,683.4 L216.9,683.4 L226.4,683.5 L219.6,691.9 L214.6,698.3 L210.6,703.7 L206.2,709.9 L201.2,717.3 L196.0,725.3 L191.2,733.1 L186.6,740.9 L182.4,748.3 L178.2,756.1 L174.4,763.7 L170.8,771.1 L167.4,778.7 L164.2,786.3 L161.2,793.9 L158.4,801.3 L156.2,807.9 L154.0,815.3 L152.0,822.3 L150.0,830.1 L148.2,837.9 L146.6,845.5 L145.0,853.9 L143.6,862.1 L142.6,869.7 L141.6,877.3 L140.9,883.7 L140.3,891.7 L139.0,909.3 L137.8,936.1Z" fill="#4c9ad5"/>
<path d="M136.3,933.6 L136.1,933.6 L135.9,933.4 L135.5,931.9 L134.9,927.3 L134.3,918.9 L133.7,909.1 L132.6,893.5 L131.3,879.5 L129.9,867.5 L128.0,855.3 L126.8,848.3 L125.2,840.3 L123.4,832.1 L121.6,824.9 L119.7,817.5 L117.6,810.5 L115.8,804.7 L113.6,798.5 L110.9,791.3 L107.9,783.7 L104.6,776.1 L101.0,768.5 L97.4,761.1 L93.6,753.7 L89.6,746.3 L85.2,738.7 L80.4,730.7 L75.6,723.1 L70.5,715.3 L65.2,707.7 L61.0,701.9 L58.0,697.9 L53.2,691.9 L46.2,683.5 L54.3,683.4 L111.1,683.4 L216.5,683.4 L226.2,683.5 L219.2,691.9 L214.4,697.9 L211.4,701.9 L207.2,707.7 L201.9,715.3 L196.8,723.1 L192.0,730.7 L187.2,738.7 L182.8,746.3 L178.8,753.7 L174.8,761.5 L171.2,768.9 L167.6,776.7 L164.4,784.1 L161.4,791.5 L158.6,798.9 L156.5,804.9 L154.6,811.1 L152.6,818.1 L150.6,825.7 L149.0,832.3 L147.2,840.5 L145.6,848.5 L144.3,856.1 L142.4,868.5 L141.0,880.1 L139.8,893.5 L138.7,909.1 L138.1,918.9 L137.5,926.9 L136.9,931.9 L136.7,932.8 L136.5,933.4 L136.3,933.6Z" fill="#5bc2d6"/>
<path d="M136.3,923.8 L136.1,923.8 L135.7,923.0 L135.1,919.9 L133.6,903.3 L132.2,885.9 L131.4,877.7 L130.6,870.5 L129.6,862.9 L128.5,855.7 L127.4,849.3 L126.0,842.1 L124.6,835.3 L122.8,827.5 L121.0,820.1 L119.2,813.7 L117.2,806.9 L115.2,800.9 L113.0,794.9 L110.2,787.7 L107.2,780.5 L104.0,773.3 L100.4,765.7 L96.8,758.5 L92.8,750.9 L88.8,743.7 L84.4,736.1 L79.6,728.3 L74.8,720.9 L69.9,713.5 L64.8,706.3 L60.8,700.9 L58.3,697.7 L46.4,683.5 L54.5,683.4 L109.1,683.4 L216.1,683.4 L226.0,683.5 L214.1,697.7 L211.6,700.9 L207.6,706.3 L202.4,713.7 L197.2,721.5 L192.5,728.9 L187.8,736.5 L183.6,743.7 L179.4,751.3 L175.4,758.9 L171.8,766.1 L168.2,773.7 L165.0,780.9 L162.0,788.1 L159.2,795.3 L157.1,801.3 L155.2,806.9 L153.2,813.7 L151.4,820.3 L149.6,827.5 L147.8,835.3 L146.4,842.1 L145.0,849.7 L143.0,861.7 L141.2,875.3 L140.2,885.9 L138.8,903.3 L138.2,909.1 L137.5,918.1 L136.9,922.3 L136.7,923.0 L136.3,923.8Z" fill="#69c4b3"/>
<path d="M136.3,916.6 L136.1,916.6 L135.9,916.3 L135.5,914.9 L134.3,905.8 L133.9,902.0 L132.2,881.3 L130.6,868.1 L128.8,855.3 L126.7,843.1 L125.4,836.7 L123.6,828.5 L122.0,821.9 L120.4,815.7 L118.5,809.1 L116.9,803.9 L115.0,798.3 L112.8,792.3 L110.0,785.3 L106.9,777.9 L103.6,770.7 L100.0,763.3 L96.2,755.9 L92.3,748.7 L88.4,741.7 L84.0,734.3 L79.4,726.9 L74.4,719.3 L69.4,711.9 L64.4,704.9 L60.8,700.1 L58.7,697.5 L46.7,683.5 L54.9,683.4 L109.9,683.4 L215.7,683.4 L225.7,683.5 L213.7,697.5 L211.6,700.1 L208.0,704.9 L203.0,711.9 L198.0,719.3 L193.0,726.9 L188.4,734.3 L184.0,741.7 L180.1,748.7 L176.2,755.9 L172.4,763.3 L168.8,770.7 L165.5,777.9 L162.4,785.3 L159.6,792.3 L157.4,798.3 L155.5,803.9 L153.9,809.1 L152.0,815.7 L150.4,821.9 L148.8,828.7 L147.0,836.9 L145.6,843.9 L143.4,856.7 L141.6,869.7 L140.2,881.9 L138.3,904.1 L137.1,913.7 L136.7,915.7 L136.5,916.3 L136.3,916.6Z" fill="#70c091"/>
<path d="M136.3,909.2 L136.1,909.2 L135.7,908.7 L135.3,907.6 L134.9,905.8 L134.5,903.5 L133.8,895.9 L132.4,879.9 L131.2,869.5 L130.0,860.7 L129.0,853.7 L127.5,844.9 L126.2,838.1 L124.4,829.7 L123.0,823.3 L121.4,816.9 L119.6,810.3 L118.1,805.3 L116.4,800.1 L114.6,794.9 L112.4,789.3 L109.6,782.3 L106.4,775.1 L103.2,768.1 L99.6,760.9 L95.7,753.5 L91.8,746.3 L87.8,739.3 L83.4,732.1 L78.6,724.5 L73.4,716.7 L68.4,709.5 L63.7,703.1 L61.1,699.7 L59.0,697.1 L46.9,683.5 L108.9,683.4 L215.3,683.4 L225.5,683.5 L213.4,697.1 L211.3,699.7 L208.7,703.1 L204.0,709.5 L199.0,716.7 L193.8,724.5 L189.0,732.1 L184.6,739.3 L180.6,746.3 L176.7,753.5 L172.8,760.9 L169.2,768.1 L165.8,775.5 L162.6,782.9 L159.8,789.7 L157.7,795.3 L155.8,800.5 L154.2,805.5 L152.8,810.3 L151.0,816.9 L149.4,823.3 L147.8,830.3 L146.2,838.3 L144.8,845.5 L143.4,853.9 L142.4,860.7 L141.2,869.5 L140.0,879.9 L138.7,895.7 L137.9,903.3 L137.5,905.8 L137.1,907.6 L136.7,908.7 L136.3,909.2Z" fill="#6fb86e"/>
<path d="M136.5,905.1 L136.3,905.3 L136.1,905.3 L135.7,904.8 L135.3,903.5 L134.9,901.4 L134.2,895.7 L132.6,878.3 L130.6,861.7 L129.6,854.7 L128.4,847.5 L127.0,839.7 L125.4,831.3 L124.0,824.9 L122.6,818.9 L121.2,813.5 L119.4,806.9 L118.0,802.3 L116.4,797.7 L112.6,787.5 L109.6,780.3 L106.4,773.1 L103.0,765.9 L99.4,758.9 L95.6,751.7 L91.6,744.5 L87.4,737.3 L83.0,730.1 L78.2,722.7 L72.8,714.7 L68.0,707.9 L63.4,701.7 L61.5,699.3 L59.2,696.7 L47.2,683.5 L109.3,683.4 L225.2,683.5 L212.8,697.1 L210.8,699.5 L208.6,702.3 L203.8,708.7 L199.2,715.3 L194.0,722.9 L189.2,730.5 L184.8,737.7 L180.6,744.9 L176.6,752.1 L172.8,759.3 L169.2,766.5 L165.8,773.7 L162.6,780.9 L159.6,788.1 L157.4,793.7 L155.5,798.9 L154.0,803.7 L152.4,808.9 L150.6,815.7 L149.2,821.5 L147.6,828.5 L146.0,836.3 L143.8,848.9 L142.0,860.5 L140.6,871.1 L139.7,879.3 L137.9,898.4 L137.2,903.3 L136.9,904.3 L136.5,905.1Z" fill="#72b842"/>
<path d="M136.3,900.8 L136.1,900.8 L135.7,900.2 L135.3,898.7 L134.9,896.5 L133.0,877.7 L130.6,858.7 L129.6,851.7 L128.2,843.1 L125.4,828.3 L122.8,816.7 L121.0,809.7 L119.8,805.3 L118.4,800.9 L116.7,796.1 L114.8,790.9 L112.8,785.7 L109.8,778.7 L106.5,771.5 L103.0,764.1 L99.4,757.1 L95.6,749.9 L91.6,742.9 L87.2,735.5 L82.9,728.5 L78.0,721.1 L72.8,713.5 L68.2,707.1 L63.7,701.1 L61.9,698.9 L59.7,696.5 L47.5,683.5 L224.9,683.5 L212.7,696.5 L210.5,698.9 L208.7,701.1 L204.2,707.1 L199.6,713.5 L194.4,721.1 L189.4,728.7 L185.2,735.5 L180.8,742.9 L176.8,749.9 L173.0,757.1 L169.4,764.1 L165.9,771.5 L162.6,778.7 L159.6,785.9 L157.4,791.3 L155.6,796.3 L154.0,800.9 L152.6,805.3 L151.4,809.7 L149.6,816.7 L147.0,828.5 L144.6,841.1 L142.4,854.7 L141.2,862.7 L139.6,875.9 L137.6,895.7 L136.9,899.5 L136.5,900.6 L136.3,900.8Z" fill="#77b93c"/>
<path d="M136.3,895.7 L136.1,895.7 L135.7,894.8 L135.1,891.6 L132.8,871.7 L131.2,859.3 L130.0,850.7 L127.8,837.9 L125.0,823.3 L122.8,813.5 L121.2,807.3 L119.8,802.5 L118.4,798.1 L116.6,793.1 L112.7,783.1 L109.6,776.1 L106.4,769.1 L103.0,762.1 L99.2,754.7 L95.2,747.5 L91.2,740.5 L86.8,733.3 L82.4,726.3 L77.6,719.1 L72.6,711.9 L68.2,705.9 L63.8,700.3 L60.3,696.3 L47.9,683.5 L224.5,683.5 L212.1,696.3 L208.6,700.3 L204.2,705.9 L199.8,711.9 L194.8,719.1 L190.0,726.3 L185.6,733.3 L181.2,740.5 L177.2,747.5 L173.2,754.7 L169.4,762.1 L166.0,769.1 L162.6,776.5 L159.6,783.5 L155.6,793.7 L153.8,798.7 L152.4,803.1 L151.0,807.9 L149.4,814.3 L147.2,824.1 L144.4,838.7 L142.2,852.1 L141.0,860.5 L139.4,873.1 L137.3,891.6 L136.7,894.8 L136.5,895.4 L136.3,895.7Z" fill="#7dbd39"/>
<path d="M136.3,888.1 L136.1,888.1 L135.9,887.9 L135.3,885.4 L131.2,855.3 L129.6,844.3 L126.8,828.5 L124.6,817.7 L122.1,807.1 L119.8,799.3 L118.2,794.7 L116.4,789.9 L112.2,779.5 L109.0,772.3 L105.8,765.5 L102.2,758.3 L98.4,751.3 L94.4,744.1 L90.4,737.3 L86.0,730.3 L81.6,723.5 L77.0,716.7 L72.6,710.5 L68.4,704.9 L64.6,700.1 L61.1,696.3 L48.3,683.5 L224.1,683.5 L211.3,696.3 L207.8,700.1 L204.0,704.9 L199.8,710.5 L195.4,716.7 L190.8,723.5 L186.4,730.3 L182.0,737.3 L178.0,744.1 L174.0,751.3 L170.2,758.3 L166.6,765.5 L163.4,772.3 L160.2,779.5 L156.0,789.9 L154.2,794.7 L152.6,799.5 L151.3,803.5 L150.2,807.5 L147.6,818.3 L145.6,828.3 L143.2,842.1 L141.2,855.3 L137.3,884.1 L136.7,887.3 L136.3,888.1Z" fill="#8cc43b"/>
<path d="M136.3,879.3 L136.1,879.3 L135.9,879.1 L135.5,878.3 L134.7,874.8 L133.3,865.7 L131.2,850.7 L129.0,836.9 L126.2,821.3 L125.1,815.7 L123.4,808.7 L121.4,801.1 L118.8,793.3 L115.4,784.3 L111.2,774.5 L108.0,767.7 L104.6,760.7 L100.8,753.5 L97.0,746.5 L93.0,739.7 L88.6,732.5 L84.2,725.7 L79.8,719.1 L76.0,713.7 L72.2,708.5 L68.7,703.9 L65.3,699.7 L62.0,696.3 L48.7,683.5 L223.7,683.5 L210.4,696.3 L207.0,699.9 L203.6,704.1 L200.0,708.7 L196.4,713.7 L192.2,719.7 L187.8,726.3 L183.4,733.1 L179.2,740.1 L175.2,746.9 L171.2,754.1 L167.6,761.1 L164.2,768.1 L161.0,774.9 L157.0,784.5 L153.5,793.7 L150.8,801.7 L148.8,809.3 L147.2,816.3 L146.0,822.1 L143.2,837.7 L141.2,850.9 L139.1,865.7 L137.9,873.7 L137.1,877.6 L136.7,878.8 L136.3,879.3Z" fill="#a7cc3f"/>
<path d="M136.3,872.5 L136.1,872.5 L135.9,872.3 L135.3,871.0 L134.3,866.7 L130.6,841.7 L128.2,826.9 L126.4,817.1 L123.8,805.9 L122.8,802.1 L121.6,798.1 L118.8,789.9 L115.0,780.3 L110.8,770.7 L107.6,763.9 L104.0,756.9 L100.2,749.9 L96.4,743.1 L92.2,736.1 L88.0,729.5 L83.6,722.7 L78.9,715.9 L72.2,706.9 L68.9,702.7 L66.2,699.5 L63.0,696.3 L49.2,683.5 L223.2,683.5 L209.4,696.3 L206.2,699.5 L203.3,702.9 L200.0,707.1 L193.4,716.1 L188.6,723.1 L184.2,729.7 L180.0,736.5 L175.8,743.5 L171.8,750.5 L168.2,757.3 L164.6,764.3 L161.4,771.1 L157.2,780.7 L153.4,790.3 L150.6,798.7 L148.5,806.3 L146.0,817.3 L144.2,826.9 L141.8,841.9 L138.3,865.7 L137.7,868.7 L137.1,871.0 L136.7,872.1 L136.3,872.5Z" fill="#d3dd45"/>
<path d="M136.5,865.5 L136.3,865.7 L136.1,865.7 L135.7,865.2 L135.3,864.0 L134.7,861.5 L133.7,855.8 L128.4,822.1 L127.4,816.7 L125.8,809.1 L124.3,802.7 L123.2,798.9 L121.8,794.5 L118.6,785.7 L114.8,776.3 L110.4,766.5 L107.0,759.7 L103.6,753.1 L99.8,746.3 L95.8,739.5 L91.8,732.9 L87.4,726.1 L82.8,719.3 L78.2,712.9 L72.4,705.3 L69.1,701.3 L67.2,699.1 L64.0,696.1 L49.8,683.5 L222.6,683.5 L208.4,696.1 L205.2,699.1 L203.3,701.3 L200.0,705.3 L194.0,713.1 L189.2,719.9 L184.8,726.5 L180.6,732.9 L176.4,739.7 L172.4,746.7 L168.6,753.5 L165.0,760.5 L161.7,767.1 L157.2,777.1 L153.4,786.7 L150.2,795.7 L149.0,799.7 L147.9,803.7 L146.9,807.7 L145.4,814.9 L144.0,822.3 L138.7,855.8 L137.9,860.4 L137.1,864.0 L136.5,865.5Z" fill="#f4d23b"/>
<path d="M136.3,856.3 L136.1,856.3 L135.9,856.2 L135.3,855.0 L134.7,852.9 L134.1,850.2 L133.4,846.5 L131.3,833.6 L130.0,824.7 L128.8,817.9 L126.6,806.3 L124.8,799.3 L123.6,795.3 L122.2,790.9 L120.4,785.9 L118.6,781.1 L114.4,771.3 L109.6,761.1 L106.2,754.5 L102.6,747.9 L98.9,741.5 L95.2,735.3 L91.0,728.7 L86.8,722.5 L82.1,715.7 L77.8,709.9 L72.3,703.1 L69.9,700.3 L68.4,698.7 L65.2,695.9 L50.5,683.5 L221.9,683.5 L207.2,695.9 L204.0,698.7 L202.5,700.3 L200.1,703.1 L194.6,709.9 L190.3,715.7 L185.6,722.5 L181.4,728.7 L177.2,735.3 L173.2,741.9 L169.6,748.3 L166.0,754.9 L162.6,761.5 L158.0,771.3 L153.8,781.3 L151.9,786.3 L150.2,790.9 L148.8,795.3 L147.6,799.3 L145.8,806.5 L143.5,818.5 L142.4,824.9 L141.1,833.6 L139.0,846.5 L138.5,849.2 L137.3,854.4 L136.7,855.9 L136.3,856.3Z" fill="#f59a34"/>
<path d="M136.5,846.3 L136.3,846.5 L136.1,846.5 L135.9,846.3 L135.5,845.7 L134.9,844.0 L134.3,841.5 L132.8,833.7 L130.8,820.7 L128.2,806.3 L126.8,800.1 L125.2,794.1 L123.8,789.7 L122.0,784.7 L120.2,779.9 L118.2,774.9 L116.0,769.9 L113.8,764.9 L108.8,754.9 L105.6,748.9 L102.2,742.9 L98.6,736.9 L94.8,730.9 L90.6,724.5 L86.0,717.9 L81.9,712.3 L78.0,707.3 L72.9,701.3 L71.7,699.9 L70.2,698.5 L63.3,692.9 L57.7,688.5 L51.4,683.5 L221.0,683.5 L214.7,688.5 L209.1,692.9 L202.2,698.5 L200.7,699.9 L199.5,701.3 L194.4,707.3 L190.5,712.3 L186.4,717.9 L181.8,724.5 L177.6,730.9 L173.8,736.9 L170.2,742.9 L166.8,748.9 L163.4,755.3 L160.8,760.5 L158.4,765.5 L156.0,770.7 L154.0,775.5 L151.8,780.9 L150.0,785.7 L148.4,790.5 L147.0,794.9 L145.4,800.7 L144.2,806.5 L141.8,819.5 L139.7,833.5 L138.5,839.6 L137.3,844.6 L136.9,845.7 L136.5,846.3Z" fill="#ee6a2e"/>
<path d="M136.3,833.6 L135.9,833.4 L135.5,832.7 L134.7,830.0 L131.2,811.9 L130.4,806.3 L129.4,800.9 L127.6,793.7 L125.4,786.3 L123.8,781.7 L122.0,776.7 L120.0,771.9 L117.8,766.7 L115.6,761.9 L113.2,757.1 L110.8,752.3 L108.0,747.1 L104.6,741.3 L101.4,735.9 L97.8,730.3 L94.2,724.9 L90.0,718.9 L85.8,713.3 L82.3,708.7 L78.6,704.3 L74.8,700.1 L72.3,697.9 L65.5,692.8 L59.5,688.5 L52.8,683.5 L219.6,683.5 L212.9,688.5 L206.9,692.8 L200.1,697.9 L197.6,700.1 L193.8,704.3 L190.1,708.7 L186.6,713.3 L182.4,718.9 L178.2,724.9 L174.3,730.7 L170.8,736.3 L167.4,741.9 L164.2,747.5 L161.4,752.7 L159.0,757.5 L156.6,762.3 L154.3,767.3 L152.2,772.3 L150.2,777.3 L148.4,782.3 L146.8,786.9 L144.8,793.5 L143.4,799.3 L142.2,805.3 L141.2,811.9 L138.1,828.1 L137.1,832.2 L136.7,833.2 L136.3,833.6Z" fill="#e84532"/>
<path d="M136.3,811.8 L136.0,811.7 L135.7,810.6 L133.8,798.7 L133.0,794.7 L132.0,790.3 L130.8,785.9 L129.6,781.9 L128.2,777.7 L126.6,773.3 L124.8,768.7 L123.0,764.3 L120.8,759.7 L118.6,755.1 L116.2,750.5 L113.4,745.5 L110.6,740.7 L107.8,736.1 L104.4,730.9 L101.0,725.9 L97.4,720.9 L93.2,715.3 L89.7,710.9 L86.5,707.1 L83.5,703.7 L80.4,700.5 L78.3,698.7 L75.3,696.5 L68.9,692.4 L61.5,687.7 L55.1,683.5 L217.3,683.5 L210.9,687.7 L203.5,692.4 L197.1,696.5 L194.1,698.7 L192.0,700.5 L188.9,703.7 L185.9,707.1 L182.7,710.9 L179.2,715.3 L175.0,720.9 L171.4,725.9 L168.0,730.9 L164.6,736.1 L161.8,740.7 L159.0,745.5 L156.2,750.5 L153.8,755.1 L151.6,759.7 L149.4,764.5 L147.4,769.1 L145.6,773.7 L144.0,778.1 L142.6,782.5 L141.4,786.7 L140.2,791.1 L138.6,798.9 L136.7,810.6 L136.5,811.4 L136.3,811.8Z" fill="#e6352f"/>
<path d="M45.50,683.50 L46.49,684.77 L47.47,686.04 L48.45,687.31 L49.42,688.58 L50.39,689.85 L51.35,691.12 L52.30,692.39 L53.25,693.66 L54.20,694.93 L55.13,696.20 L56.06,697.47 L56.99,698.74 L57.91,700.01 L58.82,701.28 L59.73,702.55 L60.63,703.82 L61.52,705.09 L62.41,706.36 L63.30,707.63 L64.17,708.90 L65.05,710.17 L65.91,711.44 L66.77,712.71 L67.63,713.98 L68.47,715.25 L69.32,716.52 L70.15,717.79 L70.98,719.06 L71.81,720.33 L72.63,721.60 L73.44,722.87 L74.25,724.14 L75.05,725.41 L75.84,726.67 L76.63,727.94 L77.42,729.21 L78.19,730.48 L78.97,731.75 L79.73,733.02 L80.49,734.29 L81.24,735.56 L81.99,736.83 L82.74,738.10 L83.47,739.37 L84.20,740.64 L84.93,741.91 L85.65,743.18 L86.36,744.45 L87.07,745.72 L87.77,746.99 L88.46,748.26 L89.15,749.53 L89.84,750.80 L90.51,752.07 L91.19,753.34 L91.85,754.61 L92.51,755.88 L93.17,757.15 L93.82,758.42 L94.46,759.69 L95.10,760.96 L95.73,762.23 L96.35,763.50 L96.97,764.77 L97.59,766.04 L98.20,767.31 L98.80,768.58 L99.39,769.85 L99.99,771.12 L100.57,772.39 L101.15,773.66 L101.72,774.93 L102.29,776.20 L102.86,777.47 L103.41,778.74 L103.96,780.01 L104.51,781.28 L105.05,782.55 L105.58,783.82 L106.11,785.09 L106.63,786.36 L107.15,787.63 L107.66,788.90 L108.17,790.17 L108.67,791.44 L109.16,792.71 L109.65,793.98 L110.13,795.25 L110.61,796.52 L111.08,797.79 L111.55,799.06 L112.01,800.33 L112.46,801.60 L112.91,802.87 L113.36,804.14 L113.80,805.41 L114.23,806.68 L114.66,807.95 L115.08,809.22 L115.50,810.48 L115.91,811.75 L116.31,813.02 L116.71,814.29 L117.11,815.56 L117.50,816.83 L117.88,818.10 L118.26,819.37 L118.64,820.64 L119.00,821.91 L119.37,823.18 L119.72,824.45 L120.08,825.72 L120.42,826.99 L120.76,828.26 L121.10,829.53 L121.43,830.80 L121.76,832.07 L122.08,833.34 L122.39,834.61 L122.70,835.88 L123.01,837.15 L123.31,838.42 L123.60,839.69 L123.89,840.96 L124.18,842.23 L124.45,843.50 L124.73,844.77 L125.00,846.04 L125.26,847.31 L125.52,848.58 L125.78,849.85 L126.02,851.12 L126.27,852.39 L126.51,853.66 L126.74,854.93 L126.97,856.20 L127.20,857.47 L127.42,858.74 L127.63,860.01 L127.84,861.28 L128.05,862.55 L128.25,863.82 L128.45,865.09 L128.64,866.36 L128.82,867.63 L129.01,868.90 L129.18,870.17 L129.36,871.44 L129.52,872.71 L129.69,873.98 L129.85,875.25 L130.00,876.52 L130.15,877.79 L130.30,879.06 L130.44,880.33 L130.58,881.60 L130.71,882.87 L130.84,884.14 L130.97,885.41 L131.09,886.68 L131.20,887.95 L131.32,889.22 L131.42,890.49 L131.53,891.76 L131.63,893.03 L131.72,894.29 L131.82,895.56 L131.90,896.83 L131.99,898.10 L132.07,899.37 L132.15,900.64 L132.22,901.91 L132.29,903.18 L132.35,904.45 L132.42,905.72 L132.48,906.99 L132.53,908.26 L132.58,909.53 L132.63,910.80 L132.68,912.07 L132.72,913.34 L132.76,914.61 L132.80,915.88 L132.83,917.15 L132.86,918.42 L132.89,919.69 L132.91,920.96 L132.93,922.23 L132.95,923.50 L132.97,924.77 L132.98,926.04 L132.99,927.31 L133.00,928.58 L133.01,929.85 L133.02,931.12 L133.02,932.39 L133.02,933.66 L133.03,934.93 L133.03,936.20 M139.37,936.20 L139.37,934.93 L139.38,933.66 L139.38,932.39 L139.38,931.12 L139.39,929.85 L139.40,928.58 L139.41,927.31 L139.42,926.04 L139.43,924.77 L139.45,923.50 L139.47,922.23 L139.49,920.96 L139.51,919.69 L139.54,918.42 L139.57,917.15 L139.60,915.88 L139.64,914.61 L139.68,913.34 L139.72,912.07 L139.77,910.80 L139.82,909.53 L139.87,908.26 L139.92,906.99 L139.98,905.72 L140.05,904.45 L140.11,903.18 L140.18,901.91 L140.25,900.64 L140.33,899.37 L140.41,898.10 L140.50,896.83 L140.58,895.56 L140.68,894.29 L140.77,893.03 L140.87,891.76 L140.98,890.49 L141.08,889.22 L141.20,887.95 L141.31,886.68 L141.43,885.41 L141.56,884.14 L141.69,882.87 L141.82,881.60 L141.96,880.33 L142.10,879.06 L142.25,877.79 L142.40,876.52 L142.55,875.25 L142.71,873.98 L142.88,872.71 L143.04,871.44 L143.22,870.17 L143.39,868.90 L143.58,867.63 L143.76,866.36 L143.95,865.09 L144.15,863.82 L144.35,862.55 L144.56,861.28 L144.77,860.01 L144.98,858.74 L145.20,857.47 L145.43,856.20 L145.66,854.93 L145.89,853.66 L146.13,852.39 L146.38,851.12 L146.62,849.85 L146.88,848.58 L147.14,847.31 L147.40,846.04 L147.67,844.77 L147.95,843.50 L148.22,842.23 L148.51,840.96 L148.80,839.69 L149.09,838.42 L149.39,837.15 L149.70,835.88 L150.01,834.61 L150.32,833.34 L150.64,832.07 L150.97,830.80 L151.30,829.53 L151.64,828.26 L151.98,826.99 L152.32,825.72 L152.68,824.45 L153.03,823.18 L153.40,821.91 L153.76,820.64 L154.14,819.37 L154.52,818.10 L154.90,816.83 L155.29,815.56 L155.69,814.29 L156.09,813.02 L156.49,811.75 L156.90,810.48 L157.32,809.22 L157.74,807.95 L158.17,806.68 L158.60,805.41 L159.04,804.14 L159.49,802.87 L159.94,801.60 L160.39,800.33 L160.85,799.06 L161.32,797.79 L161.79,796.52 L162.27,795.25 L162.75,793.98 L163.24,792.71 L163.73,791.44 L164.23,790.17 L164.74,788.90 L165.25,787.63 L165.77,786.36 L166.29,785.09 L166.82,783.82 L167.35,782.55 L167.89,781.28 L168.44,780.01 L168.99,778.74 L169.54,777.47 L170.11,776.20 L170.68,774.93 L171.25,773.66 L171.83,772.39 L172.41,771.12 L173.01,769.85 L173.60,768.58 L174.20,767.31 L174.81,766.04 L175.43,764.77 L176.05,763.50 L176.67,762.23 L177.30,760.96 L177.94,759.69 L178.58,758.42 L179.23,757.15 L179.89,755.88 L180.55,754.61 L181.21,753.34 L181.89,752.07 L182.56,750.80 L183.25,749.53 L183.94,748.26 L184.63,746.99 L185.33,745.72 L186.04,744.45 L186.75,743.18 L187.47,741.91 L188.20,740.64 L188.93,739.37 L189.66,738.10 L190.41,736.83 L191.16,735.56 L191.91,734.29 L192.67,733.02 L193.43,731.75 L194.21,730.48 L194.98,729.21 L195.77,727.94 L196.56,726.67 L197.35,725.41 L198.15,724.14 L198.96,722.87 L199.77,721.60 L200.59,720.33 L201.42,719.06 L202.25,717.79 L203.08,716.52 L203.93,715.25 L204.77,713.98 L205.63,712.71 L206.49,711.44 L207.35,710.17 L208.23,708.90 L209.10,707.63 L209.99,706.36 L210.88,705.09 L211.77,703.82 L212.67,702.55 L213.58,701.28 L214.49,700.01 L215.41,698.74 L216.34,697.47 L217.27,696.20 L218.20,694.93 L219.15,693.66 L220.10,692.39 L221.05,691.12 L222.01,689.85 L222.98,688.58 L223.95,687.31 L224.93,686.04 L225.91,684.77 L226.90,683.50" fill="none" stroke="#2b3378" stroke-width="0.7"/>
<line x1="45.50" y1="683.50" x2="226.90" y2="683.50" stroke="#555" stroke-width="0.8"/>
<line x1="44.7" y1="683.0" x2="44.7" y2="936.7" stroke="#666" stroke-width="1"/>
<line x1="44.2" y1="936.2" x2="317.3" y2="936.2" stroke="#666" stroke-width="1"/>
<line x1="44.7" y1="683.4" x2="49.7" y2="683.4" stroke="#666" stroke-width="1"/>
<text x="40.6" y="687.7" text-anchor="end" class="tk" font-size="13.0">0.35</text>
<line x1="44.7" y1="718.8" x2="49.7" y2="718.8" stroke="#666" stroke-width="1"/>
<text x="40.6" y="723.1" text-anchor="end" class="tk" font-size="13.0">0.30</text>
<line x1="44.7" y1="753.7" x2="49.7" y2="753.7" stroke="#666" stroke-width="1"/>
<text x="40.6" y="758.0" text-anchor="end" class="tk" font-size="13.0">0.25</text>
<line x1="44.7" y1="791.0" x2="49.7" y2="791.0" stroke="#666" stroke-width="1"/>
<text x="40.6" y="795.3" text-anchor="end" class="tk" font-size="13.0">0.20</text>
<line x1="44.7" y1="826.3" x2="49.7" y2="826.3" stroke="#666" stroke-width="1"/>
<text x="40.6" y="830.6" text-anchor="end" class="tk" font-size="13.0">0.15</text>
<line x1="44.7" y1="863.9" x2="49.7" y2="863.9" stroke="#666" stroke-width="1"/>
<text x="40.6" y="868.2" text-anchor="end" class="tk" font-size="13.0">0.10</text>
<line x1="44.7" y1="900.2" x2="49.7" y2="900.2" stroke="#666" stroke-width="1"/>
<text x="40.6" y="904.5" text-anchor="end" class="tk" font-size="13.0">0.05</text>
<text x="40.6" y="940.5" text-anchor="end" class="tk" font-size="13.0">0</text>
<line x1="63.8" y1="936.2" x2="63.8" y2="931.2" stroke="#666" stroke-width="1"/>
<text x="64.1" y="947.0" text-anchor="middle" class="tk" font-size="13.0">−0.10</text>
<line x1="100.2" y1="936.2" x2="100.2" y2="931.2" stroke="#666" stroke-width="1"/>
<text x="100.5" y="947.0" text-anchor="middle" class="tk" font-size="13.0">−0.05</text>
<line x1="137.0" y1="936.2" x2="137.0" y2="931.2" stroke="#666" stroke-width="1"/>
<text x="137.3" y="947.0" text-anchor="middle" class="tk" font-size="13.0">0</text>
<line x1="173.1" y1="936.2" x2="173.1" y2="931.2" stroke="#666" stroke-width="1"/>
<text x="173.4" y="947.0" text-anchor="middle" class="tk" font-size="13.0">0.05</text>
<line x1="208.9" y1="936.2" x2="208.9" y2="931.2" stroke="#666" stroke-width="1"/>
<text x="209.2" y="947.0" text-anchor="middle" class="tk" font-size="13.0">0.10</text>
<line x1="244.7" y1="936.2" x2="244.7" y2="931.2" stroke="#666" stroke-width="1"/>
<text x="245.0" y="947.0" text-anchor="middle" class="tk" font-size="13.0">0.15</text>
<line x1="280.6" y1="936.2" x2="280.6" y2="931.2" stroke="#666" stroke-width="1"/>
<text x="280.9" y="947.0" text-anchor="middle" class="tk" font-size="13.0">0.20</text>
<line x1="317.3" y1="936.2" x2="317.3" y2="931.2" stroke="#666" stroke-width="1"/>
<text x="317.6" y="947.0" text-anchor="middle" class="tk" font-size="13.0">0.25</text>
<text x="188.9" y="959.3" text-anchor="middle" class="tk" font-size="13" textLength="21.8" lengthAdjust="spacingAndGlyphs"><tspan font-style="italic">x</tspan>/m</text>
<text transform="translate(12.7,809.0) rotate(-90)" text-anchor="middle" class="tk" font-size="13" textLength="23.2" lengthAdjust="spacingAndGlyphs"><tspan font-style="italic">y</tspan>/m</text>
<text x="149.94" y="979.90" font-size="14.80" textLength="18.21" lengthAdjust="spacingAndGlyphs" class="cap" font-weight="bold">(c)</text>
<text x="173.18" y="979.90" font-size="14.30" textLength="21.60" lengthAdjust="spacingAndGlyphs" class="cap">350</text>
<text x="196.66" y="979.90" font-size="14.30" textLength="26.61" lengthAdjust="spacingAndGlyphs" class="cap">mm</text>
<rect x="251.8" y="700.30" width="13.6" height="5.40" fill="#e6352f"/>
<rect x="251.8" y="705.40" width="13.6" height="12.16" fill="#e84532"/>
<rect x="251.8" y="717.26" width="13.6" height="12.16" fill="#ee6a2e"/>
<rect x="251.8" y="729.12" width="13.6" height="12.16" fill="#f59a34"/>
<rect x="251.8" y="740.98" width="13.6" height="12.16" fill="#f4d23b"/>
<rect x="251.8" y="752.84" width="13.6" height="12.16" fill="#d3dd45"/>
<rect x="251.8" y="764.70" width="13.6" height="12.16" fill="#a7cc3f"/>
<rect x="251.8" y="776.56" width="13.6" height="12.16" fill="#8cc43b"/>
<rect x="251.8" y="788.42" width="13.6" height="12.16" fill="#7dbd39"/>
<rect x="251.8" y="800.28" width="13.6" height="12.16" fill="#77b93c"/>
<rect x="251.8" y="812.14" width="13.6" height="12.16" fill="#72b842"/>
<rect x="251.8" y="824.00" width="13.6" height="12.16" fill="#6fb86e"/>
<rect x="251.8" y="835.86" width="13.6" height="12.16" fill="#70c091"/>
<rect x="251.8" y="847.72" width="13.6" height="12.16" fill="#69c4b3"/>
<rect x="251.8" y="859.58" width="13.6" height="12.16" fill="#5bc2d6"/>
<rect x="251.8" y="871.44" width="13.6" height="12.16" fill="#4c9ad5"/>
<rect x="251.8" y="883.30" width="13.6" height="12.16" fill="#4664ad"/>
<rect x="251.8" y="895.16" width="13.6" height="12.16" fill="#3f4fa1"/>
<rect x="251.8" y="907.02" width="13.6" height="6.78" fill="#3b4a9e"/>
<line x1="251.8" y1="705.40" x2="265.4" y2="705.40" stroke="#1a1a1a" stroke-width="0.9" stroke-opacity="0.8"/>
<line x1="251.8" y1="717.26" x2="265.4" y2="717.26" stroke="#1a1a1a" stroke-width="0.9" stroke-opacity="0.8"/>
<line x1="251.8" y1="729.12" x2="265.4" y2="729.12" stroke="#1a1a1a" stroke-width="0.9" stroke-opacity="0.8"/>
<line x1="251.8" y1="740.98" x2="265.4" y2="740.98" stroke="#1a1a1a" stroke-width="0.9" stroke-opacity="0.8"/>
<line x1="251.8" y1="752.84" x2="265.4" y2="752.84" stroke="#1a1a1a" stroke-width="0.9" stroke-opacity="0.8"/>
<line x1="251.8" y1="764.70" x2="265.4" y2="764.70" stroke="#1a1a1a" stroke-width="0.9" stroke-opacity="0.8"/>
<line x1="251.8" y1="776.56" x2="265.4" y2="776.56" stroke="#1a1a1a" stroke-width="0.9" stroke-opacity="0.8"/>
<line x1="251.8" y1="788.42" x2="265.4" y2="788.42" stroke="#1a1a1a" stroke-width="0.9" stroke-opacity="0.8"/>
<line x1="251.8" y1="800.28" x2="265.4" y2="800.28" stroke="#1a1a1a" stroke-width="0.9" stroke-opacity="0.8"/>
<line x1="251.8" y1="812.14" x2="265.4" y2="812.14" stroke="#1a1a1a" stroke-width="0.9" stroke-opacity="0.8"/>
<line x1="251.8" y1="824.00" x2="265.4" y2="824.00" stroke="#1a1a1a" stroke-width="0.9" stroke-opacity="0.8"/>
<line x1="251.8" y1="835.86" x2="265.4" y2="835.86" stroke="#1a1a1a" stroke-width="0.9" stroke-opacity="0.8"/>
<line x1="251.8" y1="847.72" x2="265.4" y2="847.72" stroke="#1a1a1a" stroke-width="0.9" stroke-opacity="0.8"/>
<line x1="251.8" y1="859.58" x2="265.4" y2="859.58" stroke="#1a1a1a" stroke-width="0.9" stroke-opacity="0.8"/>
<line x1="251.8" y1="871.44" x2="265.4" y2="871.44" stroke="#1a1a1a" stroke-width="0.9" stroke-opacity="0.8"/>
<line x1="251.8" y1="883.30" x2="265.4" y2="883.30" stroke="#1a1a1a" stroke-width="0.9" stroke-opacity="0.8"/>
<line x1="251.8" y1="895.16" x2="265.4" y2="895.16" stroke="#1a1a1a" stroke-width="0.9" stroke-opacity="0.8"/>
<line x1="251.8" y1="907.02" x2="265.4" y2="907.02" stroke="#1a1a1a" stroke-width="0.9" stroke-opacity="0.8"/>
<rect x="251.8" y="700.30" width="13.6" height="213.20" fill="none" stroke="#3a3a4a" stroke-width="0.6" stroke-opacity="0.8"/>
<text x="272.1" y="710.6" class="tk" font-size="13">660</text>
<text x="272.1" y="722.5" class="tk" font-size="13">640</text>
<text x="272.1" y="734.4" class="tk" font-size="13">620</text>
<text x="272.1" y="746.2" class="tk" font-size="13">600</text>
<text x="272.1" y="758.1" class="tk" font-size="13">580</text>
<text x="272.1" y="770.0" class="tk" font-size="13">560</text>
<text x="272.1" y="781.9" class="tk" font-size="13">540</text>
<text x="272.1" y="793.8" class="tk" font-size="13">520</text>
<text x="272.1" y="805.6" class="tk" font-size="13">500</text>
<text x="272.1" y="817.5" class="tk" font-size="13">480</text>
<text x="272.1" y="829.4" class="tk" font-size="13">460</text>
<text x="272.1" y="841.3" class="tk" font-size="13">440</text>
<text x="272.1" y="853.2" class="tk" font-size="13">420</text>
<text x="272.1" y="865.0" class="tk" font-size="13">400</text>
<text x="272.1" y="876.9" class="tk" font-size="13">380</text>
<text x="272.1" y="888.8" class="tk" font-size="13">360</text>
<text x="272.1" y="900.7" class="tk" font-size="13">340</text>
<text x="272.1" y="912.6" class="tk" font-size="13">320</text>
<text x="243.75" y="694.20" font-size="12.80" textLength="62.22" lengthAdjust="spacingAndGlyphs" class="tk">Temperature</text>
</svg></body></html>
